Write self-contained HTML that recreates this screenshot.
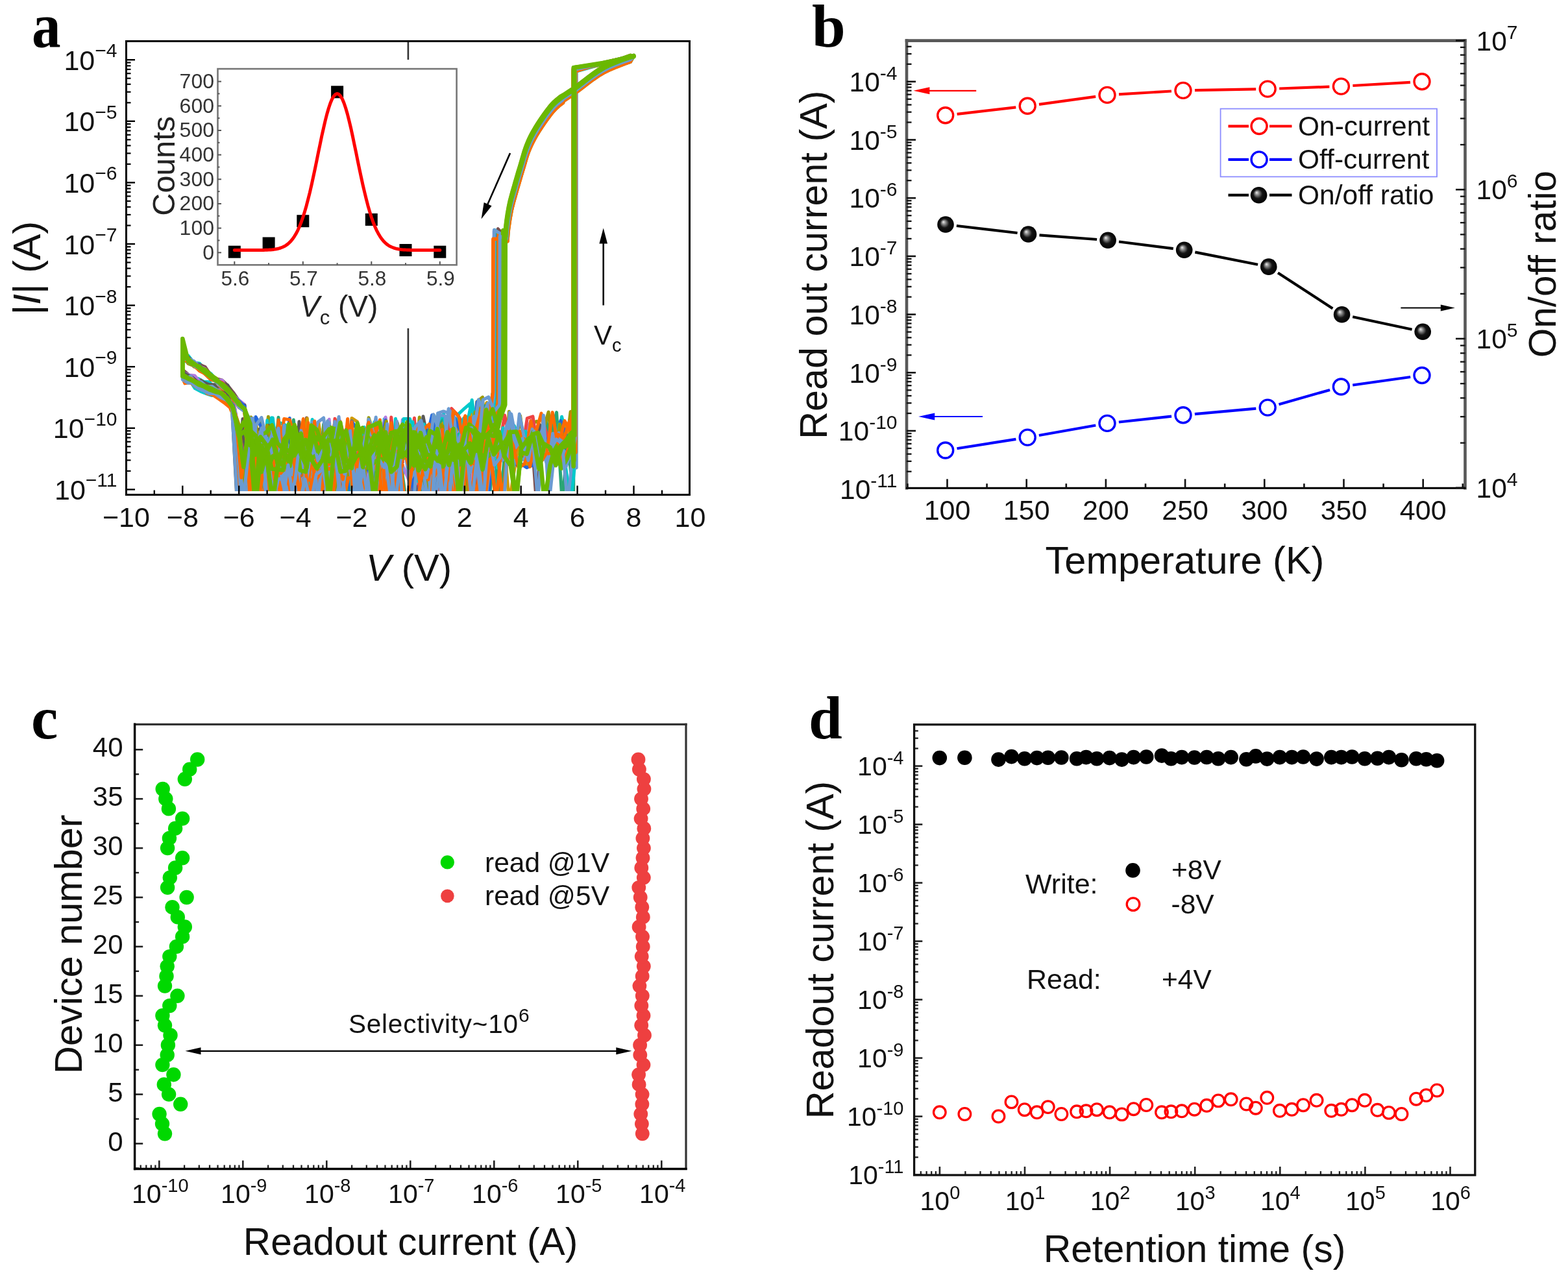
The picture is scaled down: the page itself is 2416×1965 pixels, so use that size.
<!DOCTYPE html>
<html><head><meta charset="utf-8"><title>Figure</title>
<style>html,body{margin:0;padding:0;background:#fff}svg{display:block}</style>
</head><body>
<svg width="2416" height="1965" viewBox="0 0 2416 1965" font-family="'Liberation Sans', Arial, sans-serif">
<defs>
<radialGradient id="sph" cx="0.5" cy="0.5" r="0.5" fx="0.36" fy="0.34">
<stop offset="0" stop-color="#f0f0f0"/><stop offset="0.22" stop-color="#909090"/><stop offset="0.55" stop-color="#151515"/><stop offset="1" stop-color="#000"/>
</radialGradient>
<clipPath id="clipA"><rect x="196" y="65" width="865" height="692"/></clipPath>
</defs>
<rect x="0" y="0" width="2416" height="1965" fill="#fff"/>
<g clip-path="url(#clipA)">
<polyline points="635.8,671.1 644.5,738.4 653.2,734 661.9,775 670.6,682.3 679.3,705.5 688,775 696.6,649.8 705.3,716 714,775 722.7,666.4 731.4,664.2 740.1,775 748.8,667.9 757.5,625.2 766.2,671.3 774.9,688.7 783.5,672.7 792.2,702.8 800.9,715.4 809.6,682.4 818.3,652.8 827,649.4 835.7,660.2 844.4,680.9 853.1,710.7 861.8,679.6 870.4,703.7 879.1,634.5 886.1,633.5 886.1,110.1 928.7,96.6 976.6,86.8 971.5,95.5 964.4,98 956,101.1 947,104.6 938.1,108.5 930,112.6 922.3,117.2 914.5,122.6 906.8,128.3 899.4,134 892.5,139.3 886.3,143.9 881,147.6 876.3,150.7 872.2,153.4 868.4,155.9 867.9,158.4 864.5,161 861.5,163.4 859,165.6 856.7,167.7 854.5,170 852.1,172.8 849.3,176.2 846.1,180.4 842.5,185.3 838.8,190.7 835.1,196.2 831.6,201.5 828.4,206.6 825.7,211.2 823.3,215.6 821.1,219.9 819,224.2 817.1,228.6 815.1,233.2 813.3,238 811.7,242.9 810.2,248 808.7,253.2 807.2,258.3 805.6,263.6 804,268.9 802.4,274.3 800.8,279.8 799.2,285.3 797.6,290.7 796.1,295.9 794.7,300.8 793.4,305.6 792,310.3 790.8,315 789.6,319.7 788.5,324.4 787.6,329.2 786.7,334.2 785.8,339.3 785.1,344.1 784.4,348.8 783.8,353 783.4,356.9 783,360.7 782.8,364.3 782.5,367.4 782.4,370 782.2,372 769.6,358.5 769.1,615.7 760.9,775 752.2,775 743.5,612.1 734.8,619.1 726.1,722.5 717.4,675.2 708.7,713.6 700,775 691.4,720.7 682.7,658.7 674,666 665.3,712.8 656.6,692.5 647.9,712.5 639.2,657.9 630.5,775 622,775 613.3,775 604.6,739.8 595.9,775 587.2,775 578.5,706.4 569.8,685.1 561.2,727.5 552.5,698.4 543.8,775 535.1,670.4 526.4,728.4 517.7,775 509,736.4 500.3,724.7 491.6,775 482.9,678.7 474.3,689.2 465.6,739.9 456.9,738.3 448.2,703.1 439.5,702.5 430.8,655.1 422.1,775 413.4,642.3 404.7,713.1 396,692.4 387.4,775 378.7,646.8 370,694 361.3,639.8 352.6,623.2 343.9,614 335.2,608.8 326.5,605.5 317.8,598 309.1,597.9 300.5,589.6 291.8,587.4 283.1,585.5 281.3,581.6 281.3,549.5 290,560.5 298.7,564 307.4,568.7 316.1,569.7 324.8,581.3 333.4,585.7 342.1,595.7 350.8,602 359.5,615.1 368.2,624.6 376.9,634.1 385.6,649.8 394.3,727.6 403,645.5 411.7,717.6 420.3,736.9 429,706.1 437.7,775 446.4,735.5 455.1,717.8 463.8,720.6 472.5,775 481.2,709.8 489.9,698.3 498.6,723.8 507.2,719.9 515.9,775 524.6,775 533.3,714.8 542,775 550.7,713.4 559.4,775 568.1,684.3 576.8,775 585.5,775 594.1,660 602.8,775 611.5,775 620.2,695.4" fill="none" stroke="#9c9a00" stroke-width="5.0" stroke-linejoin="round" stroke-linecap="round" />
<polyline points="631,690.6 639.7,677 648.3,695.1 657,775 665.7,671.6 674.4,688.7 683.1,733.8 691.8,692.1 700.5,707.5 709.2,668.7 717.9,699 726.6,728.1 735.2,680.5 743.9,652.9 752.6,775 761.3,696.4 770,775 778.7,715.3 787.4,686.8 796.1,678.1 804.8,683.5 813.5,716.7 822.1,676.1 830.8,690.8 839.5,679.8 848.2,690.5 856.9,689.6 865.6,642.3 874.3,678.2 883,711.3 886,638.3 886,106.1 928.7,99.3 976.6,86.8 971.5,95.1 964.4,97.6 956,100.7 947,104.2 938.1,108 930,112.1 922.3,116.8 914.5,122.2 906.8,127.9 899.4,133.6 892.5,138.9 886.3,143.4 881,147.1 876.3,150.3 872.2,153 868.4,155.5 867.7,158 864.4,160.5 861.4,163 858.8,165.2 856.5,167.3 854.3,169.6 851.9,172.3 849.2,175.7 845.9,180 842.3,184.9 838.6,190.2 834.9,195.7 831.4,201.1 828.3,206.1 825.6,210.7 823.1,215.1 820.9,219.4 818.8,223.7 816.9,228.1 815,232.7 813.2,237.6 811.5,242.5 810,247.6 808.5,252.7 807,257.9 805.5,263.1 803.9,268.5 802.2,273.9 800.6,279.4 799,284.9 797.4,290.2 796,295.4 794.6,300.4 793.2,305.2 791.9,309.9 790.6,314.6 789.5,319.2 788.4,323.9 787.4,328.8 786.5,333.8 785.6,338.8 784.9,343.7 784.2,348.3 783.7,352.5 783.2,356.5 782.9,360.3 782.6,363.8 782.4,367 782.2,369.6 782.1,371.5 767.5,356.5 767,608.9 758.8,606.7 750.1,686.8 741.4,692.6 732.7,703.6 724,622.3 715.3,629.9 706.6,637.8 697.9,690.4 689.2,716.9 680.6,659.4 671.9,644.9 663.2,737 654.5,665.4 645.8,703.2 637.1,729.7 626.8,702.7 618.1,695.8 609.5,645.3 600.8,775 592.1,645.7 583.4,775 574.7,718 566,688.6 557.3,733.6 548.6,775 539.9,707.5 531.2,691.8 522.6,775 513.9,726.5 505.2,775 496.5,775 487.8,725 479.1,669.8 470.4,738.5 461.7,718.5 453,775 444.3,683.8 435.7,736.6 427,677.7 418.3,643.8 409.6,775 400.9,697.8 392.2,775 383.5,671.1 374.8,775 366.1,662.4 357.4,614.8 348.8,608.6 340.1,603.2 331.4,600.1 322.7,588.8 314,588.3 305.3,583.4 296.6,582.1 287.9,576.5 281.3,578.6 281.3,544.6 290,548.1 298.7,559 307.4,559.9 316.1,569.4 324.8,575.7 333.4,585.7 342.1,589.5 350.8,597.9 359.5,605.4 368.2,618.5 376.9,624.4 385.6,705.2 394.3,775 403,775 411.7,647.8 420.3,775 429,715.2 437.7,775 446.4,674.6 455.1,775 463.8,685.2 472.5,702.6 481.2,646.5 489.9,775 498.6,671.9 507.2,775 515.9,717 524.6,775 533.3,775 542,715.9 550.7,678.1 559.4,693.5 568.1,775 576.8,650.5 585.5,655.5 594.1,775 602.8,714.6 611.5,699.2 620.2,705.3" fill="none" stroke="#00c9cb" stroke-width="5.0" stroke-linejoin="round" stroke-linecap="round" />
<polyline points="635.3,775 644,662.9 652.7,702.5 661.4,665.2 670.1,730.6 678.8,694.7 687.5,668.8 696.2,775 704.9,775 713.5,686.3 722.2,667.5 730.9,644.7 739.6,775 748.3,643 757,653.3 765.7,677.3 774.4,699.9 783.1,689.2 791.8,667.3 800.4,678 809.1,705.2 817.8,651.6 826.5,775 835.2,664.8 843.9,720.4 852.6,679.3 861.3,677.6 870,704.5 878.7,650.7 885.9,719.8 885.9,108.7 928.7,97.8 976.6,87.2 971.5,89.5 964.4,92 956,95.1 947,98.6 938.1,102.5 930,106.6 922.3,111.2 914.5,116.6 906.8,122.3 899.4,128 892.5,133.3 886.3,137.9 881,141.5 876.3,144.7 872.2,147.4 868.4,149.9 865.5,152.4 862.1,155 859.1,157.4 856.6,159.6 854.3,161.7 852.1,164 849.7,166.8 846.9,170.2 843.7,174.4 840.1,179.3 836.4,184.6 832.7,190.1 829.1,195.5 826,200.6 823.3,205.2 820.9,209.6 818.7,213.9 816.6,218.1 814.6,222.5 812.7,227.2 810.9,232 809.3,236.9 807.8,242 806.3,247.1 804.8,252.3 803.2,257.6 801.6,262.9 800,268.3 798.4,273.8 796.8,279.3 795.2,284.7 793.7,289.9 792.3,294.8 791,299.6 789.6,304.3 788.4,309 787.2,313.6 786.1,318.4 785.2,323.2 784.2,328.2 783.4,333.2 782.7,338.1 782,342.7 781.4,347 781,350.9 780.6,354.7 780.3,358.2 780.1,361.4 780,364 779.8,366 767.2,352.7 766.7,604.3 758.5,667.4 749.8,775 741.2,721.9 732.5,670.2 723.8,775 715.1,775 706.4,690.1 697.7,655.6 689,648.6 680.3,661.4 671.6,646 662.9,656.5 654.3,775 645.6,682.2 636.9,703.8 622.5,674.1 613.8,661.6 605.1,734.3 596.4,729.7 587.7,775 579,775 570.3,703 561.6,695.1 552.9,720.2 544.3,690.1 535.6,727.5 526.9,775 518.2,775 509.5,662.1 500.8,727 492.1,661.1 483.4,775 474.7,775 466,775 457.4,709.5 448.7,775 440,775 431.3,671.5 422.6,775 413.9,655.8 405.2,775 396.5,690.6 387.8,708 379.1,715.1 370.5,709.4 361.8,629.8 353.1,616.3 344.4,606.4 335.7,604.3 327,597.6 318.3,593.9 309.6,586 300.9,587.4 292.2,578.9 283.6,571.7 281.3,574 281.3,544.1 290,550.4 298.7,559.5 307.4,561.7 316.1,565.5 324.8,578.4 333.4,583.6 342.1,585.9 350.8,594.1 359.5,605 368.2,617.6 376.9,630 385.6,712.1 394.3,775 403,694.1 411.7,663.7 420.3,727.5 429,674.9 437.7,680.3 446.4,700.1 455.1,725.2 463.8,775 472.5,643.9 481.2,699.3 489.9,723.3 498.6,706.3 507.2,710.9 515.9,775 524.6,698.2 533.3,775 542,670.4 550.7,702.7 559.4,696.3 568.1,775 576.8,659.6 585.5,693.7 594.1,685.4 602.8,658.5 611.5,728.5 620.2,712.5" fill="none" stroke="#7b4f4f" stroke-width="5.0" stroke-linejoin="round" stroke-linecap="round" />
<polyline points="636.1,775 644.8,775 653.5,733.8 662.2,775 670.9,688.1 679.6,727.2 688.3,721.2 697,660.6 705.6,702.6 714.3,775 723,679.8 731.7,775 740.4,641 749.1,704.9 757.8,724.5 766.5,718.8 775.2,698.5 783.9,709.5 792.5,696.8 801.2,692.4 809.9,664.8 818.6,648.2 827.3,707.1 836,679 844.7,677 853.4,664.5 862.1,701.5 870.8,715.6 879.4,712 884.6,696.8 884.6,105.7 928.7,98.1 976.6,87 971.5,90.5 964.4,93.1 956,96.1 947,99.6 938.1,103.5 930,107.6 922.3,112.3 914.5,117.6 906.8,123.4 899.4,129.1 892.5,134.4 886.3,138.9 881,142.6 876.3,145.7 872.2,148.4 868.4,151 865.9,153.4 862.6,156 859.5,158.5 857,160.6 854.7,162.8 852.5,165.1 850.1,167.8 847.4,171.2 844.1,175.4 840.5,180.3 836.8,185.7 833.1,191.2 829.6,196.6 826.5,201.6 823.8,206.2 821.3,210.6 819.1,214.9 817,219.2 815.1,223.6 813.2,228.2 811.4,233 809.7,238 808.2,243 806.7,248.2 805.2,253.4 803.7,258.6 802.1,263.9 800.4,269.4 798.8,274.9 797.2,280.3 795.6,285.7 794.2,290.9 792.7,295.9 791.4,300.7 790.1,305.4 788.8,310 787.6,314.7 786.6,319.4 785.6,324.3 784.7,329.3 783.8,334.3 783.1,339.2 782.4,343.8 781.9,348 781.4,351.9 781,355.7 780.8,359.3 780.6,362.4 780.4,365 780.3,367 761.2,356.4 760.7,624.4 752.5,667.8 743.9,775 735.2,654.8 726.5,718.7 717.8,697.1 709.1,656.8 700.4,697.3 691.7,684.7 683,673.6 674.3,648.3 665.6,737.1 657,775 648.3,731.3 639.6,663.4 630.9,742 621.7,720.4 613,698.6 604.3,733.1 595.6,657.8 586.9,737.6 578.2,775 569.5,775 560.8,775 552.2,711.4 543.5,775 534.8,775 526.1,714.5 517.4,720.5 508.7,775 500,728.1 491.3,690.9 482.6,714.5 473.9,684.5 465.3,728.5 456.6,675.3 447.9,775 439.2,775 430.5,775 421.8,775 413.1,675.6 404.4,721 395.7,725.9 387,734.5 378.4,713 369.7,675.4 361,623.8 352.3,607.3 343.6,600.4 334.9,597.3 326.2,593.9 317.5,592.6 308.8,589.7 300.1,579 291.5,577.9 282.8,574.7 281.3,575.5 281.3,543.4 290,552.7 298.7,556.7 307.4,564.4 316.1,568.5 324.8,579.6 333.4,586.2 342.1,585.9 350.8,599.3 359.5,609.3 368.2,616.7 376.9,623.6 385.6,693.5 394.3,734.1 403,657.6 411.7,718.2 420.3,709.4 429,656.6 437.7,705.4 446.4,775 455.1,685.1 463.8,673.3 472.5,661.9 481.2,738.9 489.9,695.8 498.6,674.6 507.2,646.2 515.9,775 524.6,694 533.3,775 542,775 550.7,695.6 559.4,671.8 568.1,775 576.8,699.9 585.5,674.1 594.1,643 602.8,704.6 611.5,775 620.2,646.9" fill="none" stroke="#b27be2" stroke-width="5.0" stroke-linejoin="round" stroke-linecap="round" />
<polyline points="636.7,775 645.4,775 654.1,697.2 662.8,726.9 671.5,692 680.2,719.1 688.9,672.2 697.6,691.4 706.3,733 715,643.9 723.6,641.6 732.3,635.9 741,775 749.7,775 758.4,656.3 767.1,716.7 775.8,662.9 784.5,775 793.2,719.6 801.9,668.5 810.5,717.1 819.2,661.9 827.9,686.6 836.6,706.7 845.3,708.1 854,644.6 862.7,703.5 871.4,653.6 880.1,683.2 884.8,687.4 884.8,108.3 928.7,99.4 976.6,85.7 971.5,92.2 964.4,94.8 956,97.8 947,101.3 938.1,105.2 930,109.3 922.3,114 914.5,119.3 906.8,125.1 899.4,130.8 892.5,136.1 886.3,140.6 881,144.3 876.3,147.4 872.2,150.2 868.4,152.7 866.6,155.1 863.2,157.7 860.2,160.2 857.7,162.3 855.4,164.5 853.2,166.8 850.8,169.5 848,172.9 844.8,177.1 841.2,182 837.5,187.4 833.8,192.9 830.2,198.3 827.1,203.3 824.4,207.9 822,212.3 819.8,216.6 817.7,220.9 815.7,225.3 813.8,229.9 812,234.7 810.4,239.7 808.9,244.7 807.4,249.9 805.9,255.1 804.3,260.3 802.7,265.6 801.1,271.1 799.5,276.6 797.9,282 796.3,287.4 794.8,292.6 793.4,297.6 792.1,302.4 790.7,307.1 789.5,311.7 788.3,316.4 787.2,321.1 786.3,326 785.3,331 784.5,336 783.8,340.9 783.1,345.5 782.5,349.7 782.1,353.6 781.7,357.4 781.4,361 781.2,364.1 781.1,366.7 780.9,368.7 767.5,361.7 767,608.8 758.8,694.6 750.1,620.5 741.4,638.4 732.7,676 724.1,694.9 715.4,650.4 706.7,651.6 698,680.3 689.3,775 680.6,642.4 671.9,737.5 663.2,706.6 654.5,743.9 645.8,750.8 637.2,661.8 621.1,673.6 612.4,721 603.7,696 595,689.5 586.3,727.7 577.6,775 568.9,653.1 560.2,682.9 551.5,672.3 542.8,775 534.2,660.8 525.5,687 516.8,646.8 508.1,686.9 499.4,713.1 490.7,650.2 482,775 473.3,644.7 464.6,732.6 455.9,775 447.3,775 438.6,775 429.9,708.4 421.2,775 412.5,775 403.8,703.6 395.1,670.9 386.4,676.5 377.7,712 369,683.9 360.4,638.1 351.7,614.4 343,605.6 334.3,607.3 325.6,597.2 316.9,593.4 308.2,593.8 299.5,591.6 290.8,589.7 282.1,583.3 281.3,577.2 281.3,550.8 290,559 298.7,559 307.4,569.3 316.1,570.9 324.8,578.6 333.4,583 342.1,595.7 350.8,601.7 359.5,615.1 368.2,622.4 376.9,628.2 385.6,775 394.3,643.2 403,775 411.7,775 420.3,662.3 429,712.8 437.7,680.6 446.4,775 455.1,717.5 463.8,709.3 472.5,678.4 481.2,653.1 489.9,732.8 498.6,715.7 507.2,724.5 515.9,689.1 524.6,775 533.3,775 542,644.4 550.7,650.2 559.4,736.8 568.1,775 576.8,692.2 585.5,775 594.1,728.8 602.8,671.6 611.5,695.7 620.2,720.1" fill="none" stroke="#d09a00" stroke-width="5.0" stroke-linejoin="round" stroke-linecap="round" />
<polyline points="631.8,700.4 640.5,673 649.1,659 657.8,725 666.5,702.4 675.2,775 683.9,678.8 692.6,775 701.3,681 710,775 718.7,726.6 727.4,690.3 736,775 744.7,661.4 753.4,657.7 762.1,690.9 770.8,669.3 779.5,720.3 788.2,673 796.9,716.9 805.6,699.3 814.3,680.2 822.9,692.8 831.6,654.8 840.3,688.9 849,716.9 857.7,691 866.4,706.1 875.1,689.2 883.6,696.3 883.6,105.1 928.7,97.1 976.6,86.6 971.5,86.2 964.4,88.7 956,91.8 947,95.3 938.1,99.2 930,103.3 922.3,107.9 914.5,113.3 906.8,119 899.4,124.7 892.5,130 886.3,134.6 881,138.2 876.3,141.4 872.2,144.1 868.4,146.6 864.2,149.1 860.8,151.7 857.8,154.1 855.3,156.3 853,158.4 850.8,160.7 848.4,163.5 845.6,166.9 842.4,171.1 838.8,176 835.1,181.3 831.3,186.8 827.8,192.2 824.7,197.3 822,201.9 819.6,206.3 817.4,210.6 815.3,214.8 813.3,219.2 811.4,223.9 809.6,228.7 808,233.6 806.4,238.7 804.9,243.8 803.5,249 801.9,254.3 800.3,259.6 798.7,265 797.1,270.5 795.4,276 793.9,281.4 792.4,286.6 791,291.5 789.6,296.3 788.3,301 787.1,305.7 785.9,310.3 784.8,315.1 783.8,319.9 782.9,324.9 782.1,329.9 781.4,334.8 780.7,339.4 780.1,343.7 779.7,347.6 779.3,351.4 779,354.9 778.8,358.1 778.7,360.7 778.5,362.7 764.9,364.3 764.4,605.3 756.2,644.5 747.5,629.9 738.9,691.2 730.2,655 721.5,652.7 712.8,667.9 704.1,653.6 695.4,662.1 686.7,683 678,711.4 669.3,733.9 660.6,686.3 652,641.7 643.3,775 634.6,705.5 626,677.2 617.3,722.5 608.7,668.1 600,690.5 591.3,715.6 582.6,728.3 573.9,692.5 565.2,704.4 556.5,712.2 547.8,679.5 539.1,668.1 530.4,723.5 521.8,671.1 513.1,702.5 504.4,775 495.7,775 487,729.4 478.3,775 469.6,714.9 460.9,649.8 452.2,775 443.5,663.8 434.9,709.9 426.2,704.3 417.5,690.1 408.8,694.8 400.1,722.5 391.4,717.4 382.7,775 374,645.5 365.3,775 356.6,613.8 348,603 339.3,603.8 330.6,592.8 321.9,592.5 313.2,588.8 304.5,588.6 295.8,581.2 287.1,577.1 281.3,573.5 281.3,547.6 290,554.3 298.7,558.9 307.4,565.9 316.1,569.7 324.8,577.8 333.4,585.7 342.1,590.4 350.8,593.6 359.5,610.8 368.2,622.4 376.9,624.5 385.6,775 394.3,661.8 403,662 411.7,775 420.3,775 429,689.6 437.7,696 446.4,775 455.1,732.4 463.8,683.6 472.5,700.5 481.2,669.9 489.9,723.3 498.6,729.9 507.2,722.9 515.9,734 524.6,698 533.3,715.4 542,719.4 550.7,681.7 559.4,658.5 568.1,723.4 576.8,775 585.5,728.5 594.1,661.9 602.8,694.1 611.5,775 620.2,663.8" fill="none" stroke="#585858" stroke-width="5.0" stroke-linejoin="round" stroke-linecap="round" />
<polyline points="629.8,732.4 638.5,644.2 647.2,775 655.9,775 664.6,775 673.3,775 682,718.9 690.6,721.1 699.3,728.4 708,698.5 716.7,775 725.4,688.7 734.1,671.6 742.8,631.1 751.5,775 760.2,666.9 768.9,693.7 777.5,639.9 786.2,679.9 794.9,708.3 803.6,702 812.3,644.6 821,641.9 829.7,699.5 838.4,644.7 847.1,687.5 855.8,649.9 864.4,664.4 873.1,675.1 881.8,665.6 882.8,719.2 882.8,106.2 928.7,96.8 976.6,85.9 971.5,85.2 964.4,87.7 956,90.8 947,94.3 938.1,98.2 930,102.3 922.3,106.9 914.5,112.3 906.8,118 899.4,123.7 892.5,129 886.3,133.6 881,137.3 876.3,140.4 872.2,143.1 868.4,145.6 863.8,148.1 860.4,150.7 857.4,153.1 854.9,155.3 852.6,157.4 850.4,159.7 848,162.5 845.2,165.9 842,170.1 838.4,175 834.7,180.4 830.9,185.9 827.4,191.2 824.3,196.3 821.6,200.9 819.2,205.3 817,209.6 814.9,213.9 812.9,218.3 811,222.9 809.2,227.7 807.6,232.6 806,237.7 804.6,242.9 803.1,248 801.5,253.3 799.9,258.6 798.3,264 796.7,269.5 795.1,275 793.5,280.4 792,285.6 790.6,290.5 789.2,295.3 787.9,300 786.7,304.7 785.5,309.4 784.4,314.1 783.4,318.9 782.5,323.9 781.7,329 781,333.8 780.3,338.5 779.7,342.7 779.3,346.6 778.9,350.4 778.6,354 778.4,357.1 778.3,359.7 778.1,361.7 765.2,367.7 764.7,604.9 756.5,650.9 747.8,675 739.1,775 730.4,669 721.7,682.2 713,651.3 704.3,638.7 695.6,629.6 687,683.8 678.3,728.9 669.6,698 660.9,714.5 652.2,701.1 643.5,775 634.8,744.9 628,656 619.3,710.5 610.6,775 601.9,720.8 593.2,775 584.5,775 575.8,733.2 567.2,775 558.5,775 549.8,688.5 541.1,670.5 532.4,679.6 523.7,648.7 515,729.4 506.3,712.6 497.6,680.8 488.9,691 480.3,676 471.6,694.7 462.9,735.9 454.2,696.1 445.5,739.8 436.8,775 428.1,720.4 419.4,688 410.7,775 402,735.1 393.4,686.4 384.7,699.5 376,700.7 367.3,663.2 358.6,631.7 349.9,617.1 341.2,605.4 332.5,603.5 323.8,600.3 315.1,596 306.5,596.4 297.8,591 289.1,581.8 281.3,578.3 281.3,550 290,552.9 298.7,564.9 307.4,563 316.1,572.3 324.8,577.8 333.4,586.6 342.1,589.3 350.8,598.7 359.5,615.1 368.2,624.3 376.9,628.1 385.6,670.3 394.3,775 403,775 411.7,690.4 420.3,775 429,775 437.7,775 446.4,721.3 455.1,728.2 463.8,686.4 472.5,775 481.2,662.6 489.9,775 498.6,703.4 507.2,775 515.9,645.3 524.6,720.5 533.3,733.6 542,695.6 550.7,688.3 559.4,775 568.1,775 576.8,676.7 585.5,775 594.1,775 602.8,642.9 611.5,728.3 620.2,710.7" fill="none" stroke="#ee4444" stroke-width="5.0" stroke-linejoin="round" stroke-linecap="round" />
<polyline points="631.7,691.7 640.3,775 649,775 657.7,682.8 666.4,775 675.1,654.1 683.8,643.2 692.5,681.7 701.2,674.7 709.9,666.9 718.6,709.5 727.2,691.9 735.9,701.2 744.6,658.7 753.3,775 762,691.1 770.7,775 779.4,681.5 788.1,692.4 796.8,678.7 805.5,697.5 814.1,679.4 822.8,689.2 831.5,700 840.2,646.2 848.9,672.1 857.6,635.6 866.3,775 875,678.3 883.7,775 884,665.3 884,107 928.7,99.2 976.6,85.4 971.5,92.1 964.4,94.6 956,97.7 947,101.2 938.1,105.1 930,109.2 922.3,113.8 914.5,119.2 906.8,124.9 899.4,130.6 892.5,135.9 886.3,140.5 881,144.2 876.3,147.3 872.2,150 868.4,152.5 866.5,155 863.2,157.6 860.2,160 857.6,162.2 855.4,164.3 853.1,166.7 850.7,169.4 848,172.8 844.7,177 841.2,181.9 837.4,187.3 833.7,192.8 830.2,198.2 827.1,203.2 824.4,207.8 822,212.2 819.7,216.5 817.7,220.8 815.7,225.2 813.8,229.8 812,234.6 810.3,239.6 808.8,244.6 807.3,249.8 805.8,255 804.3,260.2 802.7,265.5 801.1,270.9 799.4,276.4 797.8,281.9 796.3,287.3 794.8,292.5 793.4,297.4 792,302.3 790.7,307 789.4,311.6 788.3,316.3 787.2,321 786.2,325.8 785.3,330.9 784.5,335.9 783.7,340.8 783.1,345.4 782.5,349.6 782,353.5 781.7,357.3 781.4,360.9 781.2,364 781,366.6 780.9,368.6 764.7,358.2 764.2,618.3 756,635 747.3,625.7 738.6,676.2 729.9,682 721.3,656.6 712.6,707.8 703.9,694.8 695.2,733.1 686.5,658.2 677.8,713.4 669.1,640.7 660.4,714.8 651.7,722 643,727.9 634.4,730.2 626.1,775 617.5,712.7 608.8,775 600.1,684.3 591.4,705.7 582.7,723.1 574,735.6 565.3,708.8 556.6,691.3 547.9,736.9 539.2,775 530.6,714.9 521.9,724.8 513.2,678.6 504.5,712.3 495.8,737 487.1,727.6 478.4,775 469.7,733.8 461,722.4 452.3,647.1 443.7,716.1 435,730.3 426.3,737.9 417.6,703.5 408.9,708.4 400.2,775 391.5,690.9 382.8,671.1 374.1,775 365.4,688 356.8,625.9 348.1,620.6 339.4,608.1 330.7,607.9 322,603.1 313.3,602.9 304.6,594.9 295.9,589.3 287.2,584 281.3,580.3 281.3,548.6 290,554.8 298.7,560.8 307.4,567.4 316.1,576.6 324.8,585.3 333.4,587.4 342.1,593.2 350.8,601.5 359.5,614.4 368.2,624.1 376.9,629.5 385.6,687.4 394.3,775 403,675.6 411.7,723.1 420.3,730.9 429,643.2 437.7,775 446.4,698.5 455.1,775 463.8,775 472.5,719.6 481.2,726.4 489.9,775 498.6,653.8 507.2,733.4 515.9,775 524.6,707.9 533.3,662.2 542,705.5 550.7,690.4 559.4,702.2 568.1,646.9 576.8,775 585.5,675.5 594.1,775 602.8,712.7 611.5,716.5 620.2,705.5" fill="none" stroke="#2aa575" stroke-width="5.0" stroke-linejoin="round" stroke-linecap="round" />
<polyline points="629.2,775 637.8,694 646.5,656.5 655.2,681.8 663.9,701 672.6,775 681.3,775 690,704.3 698.7,639.9 707.4,775 716.1,727.3 724.7,659.5 733.4,717.2 742.1,668.8 750.8,646.4 759.5,664.2 768.2,716.4 776.9,690.5 785.6,668.3 794.3,713.7 803,714.9 811.6,720.8 820.3,717.3 829,717.9 837.7,664.5 846.4,700.7 855.1,702.2 863.8,648.4 872.5,670.6 881.2,692 884.3,672.7 884.3,107.1 928.7,99.3 976.6,86.4 971.5,86.5 964.4,89 956,92.1 947,95.6 938.1,99.4 930,103.5 922.3,108.2 914.5,113.6 906.8,119.3 899.4,125 892.5,130.3 886.3,134.8 881,138.5 876.3,141.7 872.2,144.4 868.4,146.9 864.3,149.4 860.9,151.9 857.9,154.4 855.4,156.6 853.1,158.7 850.9,161 848.5,163.7 845.7,167.1 842.5,171.4 838.9,176.3 835.2,181.6 831.4,187.1 827.9,192.5 824.8,197.5 822.1,202.1 819.7,206.5 817.5,210.8 815.4,215.1 813.4,219.5 811.5,224.1 809.7,229 808.1,233.9 806.5,239 805.1,244.1 803.6,249.3 802,254.5 800.4,259.8 798.8,265.3 797.2,270.8 795.6,276.3 794,281.6 792.5,286.8 791.1,291.8 789.8,296.6 788.4,301.3 787.2,306 786,310.6 784.9,315.3 783.9,320.2 783,325.2 782.2,330.2 781.5,335.1 780.8,339.7 780.2,343.9 779.8,347.9 779.4,351.7 779.1,355.2 778.9,358.4 778.8,361 778.6,362.9 761.3,364.6 760.8,623.5 752.6,775 743.9,645.1 735.2,619.3 726.5,694.5 717.8,706.3 709.2,664.1 700.5,643.7 691.8,775 683.1,736.3 674.4,693.2 665.7,639.6 657,677.9 648.3,745 639.6,775 630.9,690.2 628.6,693.8 620,657.3 611.3,704.2 602.6,717 593.9,736.2 585.2,725 576.5,712.8 567.8,724.9 559.1,681.9 550.4,679.3 541.7,775 533.1,691.7 524.4,775 515.7,775 507,775 498.3,693.8 489.6,716.7 480.9,718.5 472.2,775 463.5,681.2 454.8,714.4 446.2,644.4 437.5,719.1 428.8,775 420.1,688.7 411.4,721.1 402.7,658.2 394,642.5 385.3,701.9 376.6,715.2 367.9,662.3 359.3,624.4 350.6,615.3 341.9,607.6 333.2,606.9 324.5,599.2 315.8,598.1 307.1,595.8 298.4,586.8 289.7,581.6 281.3,578.3 281.3,547.5 290,556.6 298.7,561 307.4,562.6 316.1,574.9 324.8,578.8 333.4,587.3 342.1,592.3 350.8,600.6 359.5,610.8 368.2,617.9 376.9,626.4 385.6,693.2 394.3,775 403,721.9 411.7,695.9 420.3,775 429,683.5 437.7,718.1 446.4,664 455.1,724.9 463.8,738.9 472.5,775 481.2,699.3 489.9,689.8 498.6,775 507.2,711.7 515.9,711.5 524.6,714.9 533.3,697.4 542,649 550.7,663.2 559.4,775 568.1,648.9 576.8,703.3 585.5,691.5 594.1,647.5 602.8,698.7 611.5,669.9 620.2,729.8" fill="none" stroke="#2266dd" stroke-width="5.0" stroke-linejoin="round" stroke-linecap="round" />
<polyline points="635.9,650.3 644.6,741.9 653.3,653.8 662,775 670.7,669.1 679.4,673.4 688.1,775 696.7,697.3 705.4,684.5 714.1,645.2 722.8,670.4 731.5,720.9 740.2,673.4 748.9,720 757.6,667.3 766.3,721.3 775,659.5 783.6,699.1 792.3,656 801,676 809.7,664.6 818.4,701.9 827.1,696.1 835.8,708.9 844.5,699.6 853.2,711 861.9,653.5 870.5,711.7 879.2,775 887.9,696.6 887.9,110.2 928.7,98.6 976.6,86 971.5,91 964.4,93.5 956,96.6 947,100.1 938.1,104 930,108.1 922.3,112.7 914.5,118.1 906.8,123.8 899.4,129.5 892.5,134.8 886.3,139.4 881,143.1 876.3,146.2 872.2,148.9 868.4,151.4 866.1,153.9 862.7,156.5 859.7,158.9 857.2,161.1 854.9,163.2 852.7,165.5 850.3,168.3 847.5,171.7 844.3,175.9 840.7,180.8 837,186.2 833.3,191.6 829.8,197 826.6,202.1 823.9,206.7 821.5,211.1 819.3,215.4 817.2,219.7 815.3,224.1 813.3,228.7 811.5,233.5 809.9,238.4 808.4,243.5 806.9,248.6 805.4,253.8 803.8,259.1 802.2,264.4 800.6,269.8 799,275.3 797.4,280.8 795.8,286.2 794.3,291.4 792.9,296.3 791.6,301.1 790.2,305.8 789,310.5 787.8,315.2 786.7,319.9 785.8,324.7 784.8,329.7 784,334.8 783.3,339.6 782.6,344.3 782,348.5 781.6,352.4 781.2,356.2 781,359.8 780.7,362.9 780.6,365.5 780.4,367.5 761.9,354.4 761.4,619.8 753.2,674.1 744.6,667.7 735.9,678.8 727.2,616.4 718.5,659.7 709.8,775 701.1,682.9 692.4,710.8 683.7,638.2 675,649.1 666.3,697 657.7,675.4 649,688.1 640.3,677.6 631.6,645.6 621.9,645.6 613.2,718.1 604.5,775 595.8,680 587.1,775 578.4,660.4 569.7,705.6 561.1,658.4 552.4,775 543.7,775 535,673.4 526.3,686.4 517.6,687.2 508.9,736.1 500.2,684.4 491.5,702 482.8,701.4 474.2,686.6 465.5,694.5 456.8,718.9 448.1,670.2 439.4,654.8 430.7,651.2 422,775 413.3,732.3 404.6,717.6 395.9,711.4 387.3,724.9 378.6,703.7 369.9,707.7 361.2,640.1 352.5,620.7 343.8,615.9 335.1,609.4 326.4,609.6 317.7,606.7 309,603.1 300.4,598.6 291.7,585.2 283,580.9 281.3,580.6 281.3,554.1 290,558.8 298.7,562.2 307.4,566.2 316.1,573 324.8,579.4 333.4,586.3 342.1,597.7 350.8,601.2 359.5,611.3 368.2,625.8 376.9,630.2 385.6,714.8 394.3,720.3 403,687.3 411.7,695.3 420.3,643.9 429,725.5 437.7,674 446.4,775 455.1,724.8 463.8,775 472.5,775 481.2,653.9 489.9,734.6 498.6,688 507.2,652.8 515.9,775 524.6,662.6 533.3,730.4 542,711 550.7,651.7 559.4,680.7 568.1,703.8 576.8,775 585.5,728.2 594.1,691.7 602.8,775 611.5,707.8 620.2,653.6" fill="none" stroke="#00c9cb" stroke-width="5.0" stroke-linejoin="round" stroke-linecap="round" />
<polyline points="636.5,718.9 645.2,658.1 653.9,677.2 662.6,684.5 671.3,697.5 680,654.5 688.7,664 697.4,775 706.1,686.4 714.7,775 723.4,729.5 732.1,635.1 740.8,728.2 749.5,719.2 758.2,660.6 766.9,702.4 775.6,775 784.3,634.2 793,700.3 801.6,640.6 810.3,708.5 819,687.3 827.7,717.4 836.4,664.6 845.1,635 853.8,718 862.5,653.7 871.2,686.6 879.9,674.4 884.6,708.7 884.6,109.3 928.7,97.8 976.6,86.2 971.5,89.2 964.4,91.8 956,94.8 947,98.4 938.1,102.2 930,106.3 922.3,111 914.5,116.3 906.8,122.1 899.4,127.8 892.5,133.1 886.3,137.6 881,141.3 876.3,144.4 872.2,147.2 868.4,149.7 865.4,152.1 862,154.7 859,157.2 856.5,159.3 854.2,161.5 852,163.8 849.6,166.5 846.8,169.9 843.6,174.1 840,179 836.3,184.4 832.6,189.9 829,195.3 825.9,200.3 823.2,204.9 820.8,209.3 818.6,213.6 816.5,217.9 814.5,222.3 812.6,226.9 810.8,231.7 809.2,236.7 807.7,241.7 806.2,246.9 804.7,252.1 803.1,257.3 801.5,262.6 799.9,268.1 798.3,273.6 796.7,279 795.1,284.4 793.6,289.6 792.2,294.6 790.9,299.4 789.5,304.1 788.3,308.7 787.1,313.4 786,318.1 785.1,323 784.1,328 783.3,333 782.6,337.9 781.9,342.5 781.3,346.7 780.9,350.6 780.5,354.4 780.2,358 780,361.1 779.9,363.7 779.7,365.7 768,358.9 767.5,613.2 759.3,672.1 750.6,703.1 741.9,618.8 733.2,669.5 724.5,722.8 715.8,775 707.1,680.5 698.5,697.4 689.8,707.1 681.1,677.3 672.4,692.1 663.7,775 655,713.1 646.3,643 637.6,726.6 628.9,699.8 621.3,707.3 612.6,652.3 603.9,718.2 595.2,649 586.5,694.5 577.8,695.1 569.1,695.9 560.4,689.4 551.7,775 543.1,661.2 534.4,739.7 525.7,685.3 517,729.3 508.3,775 499.6,653.1 490.9,775 482.2,775 473.5,661.4 464.8,775 456.2,689.7 447.5,737.2 438.8,687.8 430.1,692.4 421.4,698.5 412.7,722.1 404,722.2 395.3,660.7 386.6,642.9 377.9,775 369.3,657.2 360.6,632.3 351.9,621 343.2,605.7 334.5,600.4 325.8,595.3 317.1,595.1 308.4,595.4 299.7,588.5 291,586.2 282.4,580.2 281.3,578.4 281.3,548.7 290,551.9 298.7,564.9 307.4,568.4 316.1,568.9 324.8,577.1 333.4,588.5 342.1,593 350.8,602.8 359.5,613.1 368.2,619.1 376.9,632.9 385.6,775 394.3,775 403,726.7 411.7,655.5 420.3,689.2 429,739.4 437.7,775 446.4,731.9 455.1,685.7 463.8,775 472.5,680.3 481.2,709.1 489.9,703.4 498.6,736.8 507.2,775 515.9,775 524.6,710.4 533.3,739.6 542,711.9 550.7,706.3 559.4,775 568.1,643.7 576.8,670.3 585.5,739.5 594.1,703.4 602.8,713.4 611.5,703.2 620.2,731.9" fill="none" stroke="#9c9a00" stroke-width="5.0" stroke-linejoin="round" stroke-linecap="round" />
<polyline points="635.1,660.6 643.8,685.1 652.5,729 661.2,667 669.9,775 678.6,715.8 687.3,706.3 696,775 704.7,717.3 713.4,699.6 722,656.3 730.7,641.9 739.4,775 748.1,775 756.8,702.2 765.5,701.4 774.2,696 782.9,684.3 791.6,719.2 800.3,638 808.9,681.3 817.6,677 826.3,694.7 835,663.5 843.7,719.3 852.4,678.2 861.1,667.2 869.8,681.4 878.5,678 887.2,646.4 887.2,666.3 887.2,106.5 928.7,96.9 976.6,85.2 971.5,87.3 964.4,89.8 956,92.9 947,96.4 938.1,100.3 930,104.4 922.3,109 914.5,114.4 906.8,120.1 899.4,125.8 892.5,131.1 886.3,135.7 881,139.4 876.3,142.5 872.2,145.2 868.4,147.7 864.6,150.2 861.3,152.8 858.3,155.2 855.7,157.4 853.4,159.5 851.2,161.8 848.8,164.6 846.1,168 842.8,172.2 839.2,177.1 835.5,182.5 831.8,188 828.3,193.3 825.2,198.4 822.5,203 820,207.4 817.8,211.7 815.7,216 813.8,220.4 811.9,225 810.1,229.8 808.4,234.8 806.9,239.8 805.4,245 803.9,250.2 802.4,255.4 800.8,260.7 799.1,266.1 797.5,271.6 795.9,277.1 794.3,282.5 792.9,287.7 791.5,292.6 790.1,297.4 788.8,302.2 787.5,306.8 786.3,311.5 785.3,316.2 784.3,321 783.4,326.1 782.5,331.1 781.8,335.9 781.1,340.6 780.6,344.8 780.1,348.7 779.7,352.5 779.5,356.1 779.3,359.2 779.1,361.8 779,363.8 769.3,368.2 768.8,604.2 760.6,667.5 752,621.1 743.3,641.9 734.6,640.4 725.9,702.9 717.2,660.2 708.5,728.3 699.8,643.8 691.1,630 682.4,712.3 673.7,711.2 665.1,775 656.4,691.3 647.7,718.6 639,727.5 630.3,740.5 622.7,681.9 614,687.5 605.3,775 596.6,653.3 587.9,775 579.2,642.9 570.5,694.5 561.8,718.3 553.1,697.2 544.4,687.8 535.8,698.5 527.1,693.1 518.4,682.1 509.7,703.4 501,775 492.3,775 483.6,723.1 474.9,728.8 466.2,737.6 457.5,775 448.9,775 440.2,775 431.5,681.7 422.8,661 414.1,683.1 405.4,775 396.7,718.6 388,775 379.3,706.2 370.6,705.1 362,638.5 353.3,621.3 344.6,613.3 335.9,602.8 327.2,595.6 318.5,596.4 309.8,588.4 301.1,590.5 292.4,584.7 283.7,582.7 281.3,580.9 281.3,550.3 290,556.7 298.7,559.6 307.4,568 316.1,572.9 324.8,576.9 333.4,588.9 342.1,592.3 350.8,600.7 359.5,608.4 368.2,624.2 376.9,629.7 385.6,728.6 394.3,710.1 403,685.1 411.7,734.3 420.3,775 429,775 437.7,673.8 446.4,692.6 455.1,775 463.8,709.9 472.5,682 481.2,650.4 489.9,698.8 498.6,775 507.2,651.5 515.9,714.9 524.6,728 533.3,704.4 542,720.1 550.7,659.8 559.4,689.1 568.1,658.5 576.8,714.5 585.5,710.4 594.1,731.7 602.8,775 611.5,739.1 620.2,660.7" fill="none" stroke="#6b9bd2" stroke-width="5.0" stroke-linejoin="round" stroke-linecap="round" />
<polyline points="635.3,671 644,658 652.6,661.8 661.3,653.7 670,703.7 678.7,670.7 687.4,775 696.1,681.6 704.8,681.6 713.5,727.5 722.2,663.2 730.9,707.6 739.5,674.5 748.2,656.8 756.9,712.8 765.6,684.6 774.3,775 783,685.8 791.7,707.9 800.4,664.8 809.1,705.8 817.8,648.4 826.4,691.6 835.1,668.1 843.8,696.4 852.5,701.1 861.2,685.3 869.9,648.5 878.6,663.5 882.6,630 882.6,110.5 928.7,96.9 976.6,85.4 971.5,89.7 964.4,92.2 956,95.3 947,98.8 938.1,102.6 930,106.7 922.3,111.4 914.5,116.8 906.8,122.5 899.4,128.2 892.5,133.5 886.3,138 881,141.7 876.3,144.9 872.2,147.6 868.4,150.1 865.6,152.6 862.2,155.1 859.2,157.6 856.7,159.8 854.4,161.9 852.2,164.2 849.8,166.9 847,170.3 843.8,174.6 840.2,179.5 836.4,184.8 832.7,190.3 829.2,195.7 826.1,200.7 823.4,205.3 821,209.7 818.8,214 816.7,218.3 814.7,222.7 812.8,227.3 811,232.2 809.4,237.1 807.8,242.2 806.3,247.3 804.9,252.5 803.3,257.7 801.7,263.1 800.1,268.5 798.4,274 796.8,279.5 795.3,284.9 793.8,290 792.4,295 791,299.8 789.7,304.5 788.5,309.2 787.3,313.8 786.2,318.5 785.2,323.4 784.3,328.4 783.5,333.4 782.7,338.3 782.1,342.9 781.5,347.1 781.1,351.1 780.7,354.9 780.4,358.4 780.2,361.6 780.1,364.2 779.9,366.1 759.6,368.3 759.1,606.7 750.9,654 742.3,632.8 733.6,706.1 724.9,775 716.2,656.7 707.5,724.9 698.8,696.1 690.1,775 681.4,661.9 672.7,684.1 664,685.5 655.4,706 646.7,651.8 638,682.5 629.3,717.1 622.5,692.5 613.8,682.3 605.2,685.3 596.5,681.7 587.8,662.5 579.1,652.1 570.4,775 561.7,775 553,690.3 544.3,775 535.6,645.5 526.9,733 518.3,692.1 509.6,672.2 500.9,728.4 492.2,727.8 483.5,725.9 474.8,651.6 466.1,775 457.4,704.9 448.7,775 440,712.7 431.4,775 422.7,713.1 414,731.2 405.3,657.9 396.6,682.6 387.9,702.3 379.2,775 370.5,775 361.8,635.8 353.1,622.7 344.5,617.7 335.8,611.4 327.1,607.5 318.4,601.2 309.7,600.1 301,591.3 292.3,587.4 283.6,588.1 281.3,579.5 281.3,552 290,558.1 298.7,559.8 307.4,569.1 316.1,576.6 324.8,584.7 333.4,587.7 342.1,598.1 350.8,599.2 359.5,616.4 368.2,625.4 376.9,634.8 385.6,710.3 394.3,684.1 403,775 411.7,731.1 420.3,775 429,704.5 437.7,645.5 446.4,646.9 455.1,678.5 463.8,678.6 472.5,775 481.2,775 489.9,663.4 498.6,775 507.2,686.3 515.9,683.4 524.6,775 533.3,775 542,775 550.7,700.9 559.4,775 568.1,775 576.8,690.8 585.5,775 594.1,719.2 602.8,651.7 611.5,775 620.2,671" fill="none" stroke="#ff6a00" stroke-width="5.0" stroke-linejoin="round" stroke-linecap="round" />
<polyline points="633.9,712.6 642.6,701.2 651.3,720.9 660,775 668.7,682.1 677.4,639.8 686,641.3 694.7,775 703.4,694.1 712.1,665.6 720.8,717.2 729.5,649 738.2,711.4 746.9,657.2 755.6,627 764.3,643.9 772.9,710 781.6,703.2 790.3,711.9 799,705.3 807.7,708.9 816.4,684.4 825.1,721.6 833.8,691.4 842.5,714.2 851.2,668.2 859.8,668.3 868.5,695.3 877.2,699.9 885.9,718.8 888.2,720.8 888.2,106.5 928.7,97.5 976.6,86.7 971.5,90.3 964.4,92.9 956,96 947,99.5 938.1,103.3 930,107.4 922.3,112.1 914.5,117.5 906.8,123.2 899.4,128.9 892.5,134.2 886.3,138.7 881,142.4 876.3,145.5 872.2,148.3 868.4,150.8 865.8,153.2 862.5,155.8 859.5,158.3 856.9,160.5 854.6,162.6 852.4,164.9 850,167.6 847.3,171 844,175.2 840.5,180.2 836.7,185.5 833,191 829.5,196.4 826.4,201.4 823.7,206 821.2,210.4 819,214.7 817,219 815,223.4 813.1,228 811.3,232.8 809.6,237.8 808.1,242.9 806.6,248 805.1,253.2 803.6,258.4 802,263.7 800.3,269.2 798.7,274.7 797.1,280.2 795.6,285.5 794.1,290.7 792.7,295.7 791.3,300.5 790,305.2 788.7,309.8 787.6,314.5 786.5,319.2 785.5,324.1 784.6,329.1 783.8,334.1 783,339 782.4,343.6 781.8,347.8 781.3,351.8 781,355.6 780.7,359.1 780.5,362.2 780.3,364.9 780.2,366.8 772.2,368.2 771.7,614.2 763.5,701.2 754.8,686.1 746.1,638 737.4,615.8 728.7,677.3 720,682 711.3,775 702.6,714.2 693.9,694.3 685.3,775 676.6,664.2 667.9,638.7 659.2,721.3 650.5,728.9 641.8,717.2 633.1,717.7 623.9,686.6 615.2,675.7 606.5,775 597.8,671.3 589.1,681.9 580.4,686.7 571.8,712.4 563.1,775 554.4,738 545.7,775 537,775 528.3,775 519.6,775 510.9,775 502.2,737.3 493.5,775 484.9,709.7 476.2,775 467.5,676.4 458.8,716.4 450.1,685.1 441.4,775 432.7,689.2 424,721.2 415.3,775 406.6,738.5 398,709.4 389.3,644.6 380.6,775 371.9,775 363.2,637.3 354.5,617.6 345.8,610.5 337.1,601.1 328.4,603.9 319.7,596.4 311.1,591.4 302.4,591 293.7,579.8 285,584 281.3,580.4 281.3,546.8 290,554.1 298.7,556.6 307.4,567.9 316.1,574.9 324.8,579.3 333.4,589.1 342.1,591.7 350.8,602.8 359.5,612.9 368.2,624.3 376.9,628.9 385.6,670.5 394.3,674.3 403,711.4 411.7,775 420.3,657.4 429,775 437.7,655.6 446.4,718.4 455.1,730.7 463.8,775 472.5,717.9 481.2,678.1 489.9,650.5 498.6,643.9 507.2,719 515.9,775 524.6,738 533.3,692.6 542,738.8 550.7,775 559.4,775 568.1,739.2 576.8,775 585.5,715.5 594.1,678.3 602.8,703.9 611.5,775 620.2,721.3" fill="none" stroke="#6b9bd2" stroke-width="5.0" stroke-linejoin="round" stroke-linecap="round" />
<polyline points="634.1,673.3 642.8,679.5 651.5,672.8 660.2,711.5 668.9,734.9 677.5,717.7 686.2,702.5 694.9,662.3 703.6,775 712.3,688.7 721,719.7 729.7,709.6 738.4,716.1 747.1,635 755.8,695.1 764.4,775 773.1,775 781.8,708.6 790.5,683.7 799.2,687.3 807.9,676.5 816.6,719.4 825.3,667.5 834,637 842.7,699.7 851.3,697.5 860,669.5 868.7,676.1 877.4,649.5 882.9,710.2 882.9,108.3 928.7,99.4 976.6,85.6 971.5,95.4 964.4,98 956,101.1 947,104.6 938.1,108.4 930,112.5 922.3,117.2 914.5,122.6 906.8,128.3 899.4,134 892.5,139.3 886.3,143.8 881,147.5 876.3,150.6 872.2,153.4 868.4,155.9 867.9,158.3 864.5,160.9 861.5,163.4 859,165.6 856.7,167.7 854.5,170 852.1,172.7 849.3,176.1 846.1,180.4 842.5,185.3 838.8,190.6 835,196.1 831.5,201.5 828.4,206.5 825.7,211.1 823.3,215.5 821.1,219.8 819,224.1 817,228.5 815.1,233.1 813.3,237.9 811.7,242.9 810.1,248 808.7,253.1 807.2,258.3 805.6,263.5 804,268.8 802.4,274.3 800.8,279.8 799.2,285.3 797.6,290.6 796.1,295.8 794.7,300.8 793.3,305.6 792,310.3 790.8,315 789.6,319.6 788.5,324.3 787.5,329.2 786.6,334.2 785.8,339.2 785.1,344.1 784.4,348.7 783.8,352.9 783.4,356.9 783,360.7 782.7,364.2 782.5,367.4 782.4,370 782.2,371.9 767.9,358.7 767.4,615.6 759.2,691.5 750.5,643.5 741.8,705.1 733.1,775 724.4,643.4 715.8,698.5 707.1,642.2 698.4,633.1 689.7,722.6 681,775 672.3,684.6 663.6,775 654.9,775 646.2,775 637.5,775 623.7,775 615,693.9 606.3,698.4 597.6,686.1 588.9,683.2 580.3,724.1 571.6,675 562.9,715 554.2,708.8 545.5,736.6 536.8,736.6 528.1,775 519.4,718.4 510.7,775 502,722.2 493.4,775 484.7,649 476,739.9 467.3,645.6 458.6,694.1 449.9,775 441.2,775 432.5,775 423.8,676.7 415.1,775 406.5,661 397.8,775 389.1,775 380.4,698.5 371.7,706.9 363,648.4 354.3,628.2 345.6,620.9 336.9,614.7 328.2,608.9 319.6,606.7 310.9,597.8 302.2,596.6 293.5,589.6 284.8,590.9 281.3,580.5 281.3,555.5 290,556.6 298.7,563.2 307.4,571.7 316.1,575.9 324.8,580.4 333.4,586.5 342.1,599.1 350.8,601.7 359.5,614.4 368.2,627.8 376.9,633.4 385.6,679.8 394.3,711.3 403,696.3 411.7,695.3 420.3,775 429,647.2 437.7,705 446.4,735.3 455.1,738.3 463.8,775 472.5,722.1 481.2,710.7 489.9,775 498.6,775 507.2,775 515.9,696.7 524.6,699.9 533.3,721.1 542,650 550.7,775 559.4,679.5 568.1,706.6 576.8,775 585.5,682.3 594.1,686.7 602.8,775 611.5,732.1 620.2,716.5" fill="none" stroke="#ff6a00" stroke-width="5.0" stroke-linejoin="round" stroke-linecap="round" />
<polyline points="637.6,775 646.3,651.9 655,697.1 663.6,666.3 672.3,690.1 681,775 689.7,711.2 698.4,690.8 707.1,775 715.8,702.1 724.5,728.5 733.2,693.7 741.9,775 750.5,775 759.2,775 767.9,775 776.6,775 785.3,635.8 794,690.4 802.7,677.6 811.4,705.6 820.1,661.4 828.8,775 837.4,640 846.1,775 854.8,692.1 863.5,678.4 872.2,719.2 880.9,693.3 886.2,703.1 886.2,105.8 928.7,96.9 976.6,85.5 971.5,88.7 964.4,91.3 956,94.3 947,97.9 938.1,101.7 930,105.8 922.3,110.5 914.5,115.9 906.8,121.6 899.4,127.3 892.5,132.6 886.3,137.1 881,140.8 876.3,143.9 872.2,146.7 868.4,149.2 865.2,151.6 861.8,154.2 858.8,156.7 856.3,158.8 854,161 851.8,163.3 849.4,166 846.6,169.4 843.4,173.6 839.8,178.6 836.1,183.9 832.4,189.4 828.9,194.8 825.7,199.8 823,204.4 820.6,208.8 818.4,213.1 816.3,217.4 814.4,221.8 812.4,226.4 810.6,231.2 809,236.2 807.5,241.2 806,246.4 804.5,251.6 802.9,256.8 801.3,262.1 799.7,267.6 798.1,273.1 796.5,278.5 794.9,283.9 793.4,289.1 792,294.1 790.7,298.9 789.3,303.6 788.1,308.2 786.9,312.9 785.8,317.6 784.9,322.5 783.9,327.5 783.1,332.5 782.4,337.4 781.7,342 781.1,346.2 780.7,350.1 780.3,354 780,357.5 779.8,360.6 779.7,363.2 779.5,365.2 761.4,354.3 760.9,611.6 752.7,652 744.1,775 735.4,678.5 726.7,718 718,667 709.3,671.4 700.6,695.6 691.9,636.9 683.2,633.9 674.5,636.9 665.8,775 657.2,775 648.5,741 639.8,690.1 631.1,699.5 620.2,688.7 611.5,775 602.8,670.8 594.2,775 585.5,656.7 576.8,703.6 568.1,775 559.4,719.1 550.7,775 542,775 533.3,775 524.6,713.8 515.9,685.2 507.3,732.9 498.6,676.6 489.9,775 481.2,672.8 472.5,719.6 463.8,775 455.1,775 446.4,775 437.7,729.2 429,696 420.4,775 411.7,682 403,643.5 394.3,655.3 385.6,735.1 376.9,775 368.2,715.7 359.5,628 350.8,613.5 342.1,607.9 333.5,603.5 324.8,602.9 316.1,602.1 307.4,595.5 298.7,589 290,590.3 281.3,585 281.3,579.5 281.3,549.8 290,556.4 298.7,558.9 307.4,568.5 316.1,574.6 324.8,580 333.4,587.7 342.1,596.9 350.8,602.5 359.5,613.4 368.2,625.7 376.9,632.9 385.6,736.9 394.3,673.8 403,680 411.7,714.2 420.3,692.9 429,660.1 437.7,775 446.4,775 455.1,775 463.8,706.7 472.5,739 481.2,680.7 489.9,676.1 498.6,728.8 507.2,775 515.9,649.7 524.6,775 533.3,721.8 542,724 550.7,775 559.4,706.8 568.1,646.1 576.8,671.1 585.5,670.6 594.1,683.7 602.8,698.2 611.5,713.9 620.2,659" fill="none" stroke="#6b9bd2" stroke-width="5.0" stroke-linejoin="round" stroke-linecap="round" />
<polyline points="634,775 642.7,775 651.4,725.6 660,739.2 668.7,696 677.4,680.6 686.1,775 694.8,662.3 703.5,698.9 712.2,775 720.9,691.5 729.6,714.3 738.3,705 746.9,775 755.6,701.2 764.3,775 773,687.6 781.7,665.1 790.4,685.7 799.1,721.1 807.8,715.4 816.5,691.7 825.2,661.8 833.8,711.8 842.5,697.8 851.2,635.4 859.9,688.4 868.6,714 877.3,685.6 886,677.8 887.2,697.4 887.2,110.1 928.7,96.6 976.6,86.2 971.5,93.1 964.4,95.7 956,98.7 947,102.2 938.1,106.1 930,110.2 922.3,114.9 914.5,120.2 906.8,126 899.4,131.7 892.5,137 886.3,141.5 881,145.2 876.3,148.3 872.2,151.1 868.4,153.6 866.9,156 863.6,158.6 860.6,161.1 858,163.2 855.8,165.4 853.5,167.7 851.2,170.4 848.4,173.8 845.2,178 841.6,182.9 837.8,188.3 834.1,193.8 830.6,199.2 827.5,204.2 824.8,208.8 822.4,213.2 820.1,217.5 818.1,221.8 816.1,226.2 814.2,230.8 812.4,235.6 810.8,240.6 809.2,245.6 807.7,250.8 806.2,256 804.7,261.2 803.1,266.5 801.5,272 799.8,277.5 798.2,282.9 796.7,288.3 795.2,293.5 793.8,298.5 792.4,303.3 791.1,308 789.8,312.6 788.7,317.3 787.6,322 786.6,326.9 785.7,331.9 784.9,336.9 784.1,341.8 783.5,346.4 782.9,350.6 782.4,354.5 782.1,358.3 781.8,361.9 781.6,365 781.4,367.6 781.3,369.6 760.2,368.1 759.7,603.5 751.5,666.6 742.8,626.7 734.1,658.2 725.4,716.3 716.7,640.8 708,700.9 699.3,775 690.6,718.4 681.9,676.5 673.3,677.2 664.6,708 655.9,710.1 647.2,746.5 638.5,695.7 629.8,756.2 623.8,775 615.1,722.8 606.4,775 597.8,775 589.1,775 580.4,673.8 571.7,725.3 563,676.1 554.3,674 545.6,775 536.9,678.1 528.2,739 519.5,698.4 510.9,713.8 502.2,717.8 493.5,671.3 484.8,722.3 476.1,775 467.4,687.4 458.7,679.4 450,775 441.3,719.4 432.6,729.3 424,721.7 415.3,775 406.6,720.9 397.9,775 389.2,775 380.5,680.4 371.8,736.2 363.1,639.1 354.4,621.1 345.7,608.2 337.1,602.6 328.4,605.8 319.7,600 311,592.9 302.3,588.2 293.6,582.9 284.9,585.1 281.3,578.4 281.3,547.2 290,558.8 298.7,560.5 307.4,564.6 316.1,573.3 324.8,579.1 333.4,587.1 342.1,593.2 350.8,601.8 359.5,609.9 368.2,622.6 376.9,634.6 385.6,775 394.3,701.3 403,692.7 411.7,735.2 420.3,775 429,738.6 437.7,775 446.4,694.5 455.1,720.3 463.8,775 472.5,775 481.2,739.1 489.9,735.4 498.6,716.9 507.2,723.2 515.9,717.4 524.6,686.2 533.3,711.9 542,713.5 550.7,658.7 559.4,683.3 568.1,651 576.8,674.6 585.5,647.1 594.1,775 602.8,675.9 611.5,775 620.2,699.7" fill="none" stroke="#ff6a00" stroke-width="5.0" stroke-linejoin="round" stroke-linecap="round" />
<polyline points="630.3,720.7 639,690.8 647.7,713.4 656.4,676.4 665.1,706.7 673.7,685.9 682.4,719.2 691.1,708.5 699.8,718.6 708.5,716 717.2,676.9 725.9,699.3 734.6,695.4 743.3,701.7 752,703.2 760.6,695.3 769.3,666.7 778,705 786.7,717.4 795.4,775 804.1,679.4 812.8,690 821.5,666.2 830.2,678.7 838.9,775 847.5,717.2 856.2,686.6 864.9,721.8 873.6,707.2 882.3,680.3 884.3,710.1 884.3,104.2 928.7,98.9 976.6,86.8 971.5,90.8 964.4,93.3 956,96.4 947,99.9 938.1,103.8 930,107.9 922.3,112.5 914.5,117.9 906.8,123.6 899.4,129.3 892.5,134.6 886.3,139.2 881,142.9 876.3,146 872.2,148.7 868.4,151.2 866,153.7 862.7,156.3 859.7,158.7 857.1,160.9 854.8,163 852.6,165.4 850.2,168.1 847.5,171.5 844.2,175.7 840.6,180.6 836.9,186 833.2,191.5 829.7,196.9 826.6,201.9 823.9,206.5 821.4,210.9 819.2,215.2 817.1,219.5 815.2,223.9 813.3,228.5 811.5,233.3 809.8,238.3 808.3,243.3 806.8,248.5 805.3,253.7 803.8,258.9 802.2,264.2 800.5,269.6 798.9,275.1 797.3,280.6 795.7,286 794.3,291.2 792.9,296.1 791.5,301 790.2,305.7 788.9,310.3 787.7,315 786.7,319.7 785.7,324.5 784.8,329.6 783.9,334.6 783.2,339.4 782.5,344.1 782,348.3 781.5,352.2 781.1,356 780.9,359.6 780.7,362.7 780.5,365.3 780.4,367.3 775.1,355.1 774.6,608 766.5,649.9 757.8,658.7 749.1,631.7 740.4,697.7 731.7,661.3 723,654.1 714.3,697.9 705.6,697.3 696.9,701.1 688.2,703.1 679.6,702.4 670.9,669.2 662.2,664.1 653.5,710.8 644.8,725.2 636.1,681 627.5,703 618.8,695.5 610.1,674.8 601.4,725.3 592.7,684.1 584.1,689 575.4,702 566.7,672.9 558,659.6 549.3,692.2 540.6,679.2 531.9,688.8 523.2,676.1 514.5,662.6 505.8,696.2 497.2,688.7 488.5,662.8 479.8,655.7 471.1,727.2 462.4,724.7 453.7,655 445,711.8 436.3,692.2 427.6,683.1 418.9,655.4 410.3,666.4 401.6,672 392.9,775 384.2,668 375.5,650.5 366.8,667.2 358.1,626.2 349.4,614.9 340.7,608.1 332,602.6 323.4,598.4 314.7,594.4 306,592 297.3,588.4 288.6,581.9 281.3,576.8 281.3,550.2 290,554.3 298.7,562.1 307.4,566.5 316.1,570.3 324.8,578.6 333.4,587.7 342.1,594 350.8,601.2 359.5,612.8 368.2,623.6 376.9,631.1 385.6,689 394.3,672.3 403,726.5 411.7,724.9 420.3,703 429,706.6 437.7,720.2 446.4,718.3 455.1,671.7 463.8,688.2 472.5,696.6 481.2,706 489.9,699.6 498.6,702 507.2,658.3 515.9,661.4 524.6,658.7 533.3,696.1 542,704.8 550.7,652.6 559.4,687 568.1,721.5 576.8,712.1 585.5,707.6 594.1,708.4 602.8,668.3 611.5,663 620.2,702.9" fill="none" stroke="#6ab800" stroke-width="6.5" stroke-linejoin="round" stroke-linecap="round" />
<polyline points="631.4,682.8 640.1,657.5 648.8,648 657.5,681.3 666.2,708 674.8,695.5 683.5,775 692.2,775 700.9,661.3 709.6,775 718.3,687.4 727,775 735.7,698.1 744.4,775 753.1,669.9 761.7,716.8 770.4,705.6 779.1,660.8 787.8,638 796.5,685.8 805.2,675.7 813.9,709.6 822.6,664.2 831.3,713.4 840,684.5 848.6,692.7 857.3,676.9 866,683.5 874.7,775 883.4,691.9 886.1,676.1 886.1,107.1 928.7,98.4 976.6,87.1 971.5,91.8 964.4,94.3 956,97.4 947,100.9 938.1,104.8 930,108.9 922.3,113.5 914.5,118.9 906.8,124.6 899.4,130.3 892.5,135.6 886.3,140.2 881,143.9 876.3,147 872.2,149.7 868.4,152.2 866.4,154.7 863.1,157.3 860.1,159.7 857.5,161.9 855.2,164 853,166.3 850.6,169.1 847.9,172.5 844.6,176.7 841,181.6 837.3,187 833.6,192.5 830.1,197.8 827,202.9 824.3,207.5 821.8,211.9 819.6,216.2 817.5,220.5 815.6,224.9 813.7,229.5 811.9,234.3 810.2,239.3 808.7,244.3 807.2,249.5 805.7,254.7 804.2,259.9 802.6,265.2 800.9,270.6 799.3,276.1 797.7,281.6 796.1,287 794.7,292.2 793.3,297.1 791.9,301.9 790.6,306.7 789.3,311.3 788.1,316 787.1,320.7 786.1,325.5 785.2,330.6 784.3,335.6 783.6,340.4 782.9,345.1 782.4,349.3 781.9,353.2 781.5,357 781.3,360.6 781.1,363.7 780.9,366.3 780.8,368.3 770.2,364.2 769.7,623.8 761.5,633.8 752.8,611.8 744.1,616.2 735.4,706.4 726.7,659.5 718.1,661.1 709.4,775 700.7,728.6 692,696.4 683.3,775 674.6,695.3 665.9,692.8 657.2,736 648.5,687.3 639.8,672.5 631.2,672.4 626.4,695.9 617.7,704.5 609,775 600.3,696.1 591.6,720.3 583,706.1 574.3,775 565.6,662.4 556.9,702.7 548.2,775 539.5,663.8 530.8,730.4 522.1,642.2 513.4,704.7 504.7,648.6 496.1,724.8 487.4,730.9 478.7,775 470,738.6 461.3,775 452.6,775 443.9,716.6 435.2,775 426.5,775 417.8,739.2 409.2,672.5 400.5,700 391.8,657.4 383.1,696.6 374.4,775 365.7,775 357,623.3 348.3,616.2 339.6,612.4 330.9,606.4 322.3,606.5 313.6,602.2 304.9,598.5 296.2,590.8 287.5,586.1 281.3,581.9 281.3,551.9 290,554.8 298.7,563.6 307.4,568.1 316.1,574 324.8,581.3 333.4,588.2 342.1,595.6 350.8,601.2 359.5,610.2 368.2,627.8 376.9,634.2 385.6,645.8 394.3,691.8 403,659.7 411.7,775 420.3,775 429,737.9 437.7,738.2 446.4,775 455.1,737.9 463.8,663.5 472.5,711.8 481.2,674 489.9,710.1 498.6,690.6 507.2,775 515.9,692.6 524.6,775 533.3,775 542,775 550.7,723.9 559.4,775 568.1,775 576.8,685.6 585.5,681.5 594.1,709.9 602.8,775 611.5,649.3 620.2,775" fill="none" stroke="#6b9bd2" stroke-width="5.0" stroke-linejoin="round" stroke-linecap="round" />
<polyline points="629.1,676 637.8,717.6 646.5,706.8 655.2,723.2 663.8,704 672.5,707.2 681.2,713.4 689.9,696.8 698.6,660.7 707.3,775 716,696.9 724.7,713.4 733.4,664.7 742.1,673.5 750.7,669.8 759.4,661.9 768.1,664.7 776.8,702.4 785.5,665.8 794.2,775 802.9,697.2 811.6,699.6 820.3,669.3 829,666.8 837.6,685.6 846.3,688.6 855,705.5 863.7,687.2 872.4,678.2 881.1,666.5 883.7,718.8 883.7,104.2 928.7,97 976.6,87.2 971.5,85.8 964.4,88.3 956,91.4 947,94.9 938.1,98.7 930,102.8 922.3,107.5 914.5,112.9 906.8,118.6 899.4,124.3 892.5,129.6 886.3,134.1 881,137.8 876.3,141 872.2,143.7 868.4,146.2 864,148.7 860.7,151.2 857.6,153.7 855.1,155.9 852.8,158 850.6,160.3 848.2,163 845.5,166.4 842.2,170.7 838.6,175.6 834.9,180.9 831.2,186.4 827.7,191.8 824.6,196.8 821.9,201.4 819.4,205.8 817.2,210.1 815.1,214.4 813.2,218.8 811.3,223.4 809.5,228.3 807.8,233.2 806.3,238.3 804.8,243.4 803.3,248.6 801.8,253.8 800.2,259.2 798.5,264.6 796.9,270.1 795.3,275.6 793.7,281 792.3,286.1 790.8,291.1 789.5,295.9 788.2,300.6 786.9,305.3 785.7,309.9 784.7,314.6 783.7,319.5 782.8,324.5 781.9,329.5 781.2,334.4 780.5,339 780,343.2 779.5,347.2 779.1,351 778.9,354.5 778.7,357.7 778.5,360.3 778.4,362.2 776.3,358 775.8,619.7 767.6,658.8 758.9,630.7 750.2,648.8 741.5,677.9 732.8,694.9 724.1,683.5 715.4,692.7 706.8,705.1 698.1,700.1 689.4,666 680.7,703.1 672,674.8 663.3,719.2 654.6,709.1 645.9,683 637.2,666.1 628.7,694.2 620,703.8 611.3,666.1 602.6,667.1 594,701.3 585.3,651 576.6,655 567.9,658.1 559.2,720.1 550.5,665.9 541.8,721.5 533.1,707.6 524.4,651.5 515.7,696.5 507.1,661.3 498.4,673.2 489.7,677.4 481,678.4 472.3,701 463.6,695.9 454.9,679.1 446.2,665.6 437.5,677.4 428.8,720.4 420.2,677.5 411.5,694.2 402.8,727.4 394.1,678.1 385.4,686.2 376.7,664.4 368,672.1 359.3,629.1 350.6,613.8 341.9,606.8 333.3,602.6 324.6,598.3 315.9,596.2 307.2,590.6 298.5,587.2 289.8,583.7 281.3,579.2 281.3,549.5 290,553.9 298.7,560.1 307.4,567.4 316.1,573.9 324.8,577.9 333.4,584.3 342.1,594.1 350.8,602.6 359.5,610.5 368.2,623.5 376.9,630.4 385.6,653.3 394.3,775 403,686.4 411.7,710.3 420.3,775 429,707.9 437.7,690.1 446.4,696.4 455.1,677.4 463.8,668.3 472.5,721.5 481.2,662.9 489.9,695.9 498.6,680.7 507.2,775 515.9,679.2 524.6,727 533.3,725.3 542,703.2 550.7,669.3 559.4,706.4 568.1,692.5 576.8,670.6 585.5,689 594.1,666.1 602.8,727.3 611.5,719.1 620.2,662.7" fill="none" stroke="#6ab800" stroke-width="6.5" stroke-linejoin="round" stroke-linecap="round" />
<polyline points="630.5,655.2 639.2,698.1 647.9,667.1 656.6,700 665.3,702.9 674,661.1 682.7,705.7 691.4,704.6 700,709.1 708.7,684.8 717.4,701.9 726.1,712.7 734.8,679.1 743.5,723.6 752.2,675.3 760.9,700.5 769.6,688.4 778.3,680.7 786.9,666.1 795.6,665.3 804.3,689.7 813,677.1 821.7,671.5 830.4,722.6 839.1,684.4 847.8,689.8 856.5,717.1 865.2,690.2 873.8,687 882.5,668.4 885.3,671.2 885.3,104.2 928.7,97.8 976.6,85.8 971.5,88.1 964.4,90.7 956,93.7 947,97.3 938.1,101.1 930,105.2 922.3,109.9 914.5,115.2 906.8,121 899.4,126.7 892.5,132 886.3,136.5 881,140.2 876.3,143.3 872.2,146.1 868.4,148.6 864.9,151 861.6,153.6 858.6,156.1 856,158.2 853.8,160.4 851.5,162.7 849.2,165.4 846.4,168.8 843.2,173 839.6,177.9 835.8,183.3 832.1,188.8 828.6,194.2 825.5,199.2 822.8,203.8 820.4,208.2 818.1,212.5 816.1,216.8 814.1,221.2 812.2,225.8 810.4,230.6 808.8,235.6 807.2,240.6 805.7,245.8 804.2,251 802.7,256.2 801.1,261.5 799.5,267 797.8,272.5 796.2,277.9 794.7,283.3 793.2,288.5 791.8,293.5 790.4,298.3 789.1,303 787.8,307.6 786.7,312.3 785.6,317 784.6,321.9 783.7,326.9 782.9,331.9 782.1,336.8 781.5,341.4 780.9,345.6 780.4,349.5 780.1,353.3 779.8,356.9 779.6,360 779.4,362.6 779.3,364.6 778.8,357.4 778.3,623.8 770.1,647.1 761.4,672 752.7,670.2 744,675.3 735.4,675.1 726.7,663 718,659.1 709.3,695.6 700.6,681.9 691.9,716.9 683.2,691 674.5,710.3 665.8,697.7 657.1,673.8 648.5,693.7 639.8,666.6 631.1,716.2 627.3,650.8 618.6,704.3 609.9,664.6 601.2,717.8 592.5,699.7 583.8,667.8 575.1,694 566.4,704.8 557.8,698.6 549.1,703.5 540.4,719.5 531.7,722.3 523,680.6 514.3,680.4 505.6,678.1 496.9,708.5 488.2,722 479.5,707.8 470.9,677.7 462.2,687.6 453.5,702.2 444.8,653.8 436.1,724.4 427.4,723.8 418.7,722.6 410,685.5 401.3,673.5 392.6,701.2 384,652 375.3,719.9 366.6,660.4 357.9,626.3 349.2,614.7 340.5,605.7 331.8,603.8 323.1,600.5 314.4,595.8 305.7,592.6 297.1,586.9 288.4,581.8 281.3,580.1 281.3,521.9 290,556.7 298.7,562 307.4,564.9 316.1,573.9 324.8,580.9 333.4,586.8 342.1,591.5 350.8,599.3 359.5,609.3 368.2,622.8 376.9,630.2 385.6,663.6 394.3,671.9 403,709.7 411.7,688.7 420.3,681 429,705.6 437.7,692.1 446.4,660.3 455.1,658.4 463.8,700.9 472.5,718.1 481.2,678 489.9,673.1 498.6,676.2 507.2,711.3 515.9,701 524.6,682 533.3,663.3 542,706 550.7,669.4 559.4,699.2 568.1,697.4 576.8,775 585.5,682.4 594.1,708.1 602.8,715.8 611.5,668.8 620.2,654.5" fill="none" stroke="#6ab800" stroke-width="6.5" stroke-linejoin="round" stroke-linecap="round" />
</g>
<line x1="628.9" y1="63.5" x2="628.9" y2="92" stroke="#333" stroke-width="2.6" />
<line x1="628.9" y1="505" x2="628.9" y2="762.5" stroke="#333" stroke-width="2.6" />
<rect x="194.5" y="63.5" width="868" height="699" fill="none" stroke="#000" stroke-width="3"/>
<line x1="194.5" y1="754.4" x2="208" y2="754.4" stroke="#000" stroke-width="2.4" />
<line x1="194.5" y1="725.9" x2="201.5" y2="725.9" stroke="#000" stroke-width="2.2" />
<line x1="194.5" y1="709.3" x2="201.5" y2="709.3" stroke="#000" stroke-width="2.2" />
<line x1="194.5" y1="697.4" x2="201.5" y2="697.4" stroke="#000" stroke-width="2.2" />
<line x1="194.5" y1="688.3" x2="201.5" y2="688.3" stroke="#000" stroke-width="2.2" />
<line x1="194.5" y1="680.8" x2="201.5" y2="680.8" stroke="#000" stroke-width="2.2" />
<line x1="194.5" y1="674.5" x2="201.5" y2="674.5" stroke="#000" stroke-width="2.2" />
<line x1="194.5" y1="669" x2="201.5" y2="669" stroke="#000" stroke-width="2.2" />
<line x1="194.5" y1="664.1" x2="201.5" y2="664.1" stroke="#000" stroke-width="2.2" />
<line x1="194.5" y1="659.8" x2="208" y2="659.8" stroke="#000" stroke-width="2.4" />
<line x1="194.5" y1="631.3" x2="201.5" y2="631.3" stroke="#000" stroke-width="2.2" />
<line x1="194.5" y1="614.7" x2="201.5" y2="614.7" stroke="#000" stroke-width="2.2" />
<line x1="194.5" y1="602.8" x2="201.5" y2="602.8" stroke="#000" stroke-width="2.2" />
<line x1="194.5" y1="593.7" x2="201.5" y2="593.7" stroke="#000" stroke-width="2.2" />
<line x1="194.5" y1="586.2" x2="201.5" y2="586.2" stroke="#000" stroke-width="2.2" />
<line x1="194.5" y1="579.9" x2="201.5" y2="579.9" stroke="#000" stroke-width="2.2" />
<line x1="194.5" y1="574.4" x2="201.5" y2="574.4" stroke="#000" stroke-width="2.2" />
<line x1="194.5" y1="569.5" x2="201.5" y2="569.5" stroke="#000" stroke-width="2.2" />
<line x1="194.5" y1="565.2" x2="208" y2="565.2" stroke="#000" stroke-width="2.4" />
<line x1="194.5" y1="536.7" x2="201.5" y2="536.7" stroke="#000" stroke-width="2.2" />
<line x1="194.5" y1="520.1" x2="201.5" y2="520.1" stroke="#000" stroke-width="2.2" />
<line x1="194.5" y1="508.2" x2="201.5" y2="508.2" stroke="#000" stroke-width="2.2" />
<line x1="194.5" y1="499.1" x2="201.5" y2="499.1" stroke="#000" stroke-width="2.2" />
<line x1="194.5" y1="491.6" x2="201.5" y2="491.6" stroke="#000" stroke-width="2.2" />
<line x1="194.5" y1="485.3" x2="201.5" y2="485.3" stroke="#000" stroke-width="2.2" />
<line x1="194.5" y1="479.8" x2="201.5" y2="479.8" stroke="#000" stroke-width="2.2" />
<line x1="194.5" y1="474.9" x2="201.5" y2="474.9" stroke="#000" stroke-width="2.2" />
<line x1="194.5" y1="470.6" x2="208" y2="470.6" stroke="#000" stroke-width="2.4" />
<line x1="194.5" y1="442.1" x2="201.5" y2="442.1" stroke="#000" stroke-width="2.2" />
<line x1="194.5" y1="425.5" x2="201.5" y2="425.5" stroke="#000" stroke-width="2.2" />
<line x1="194.5" y1="413.6" x2="201.5" y2="413.6" stroke="#000" stroke-width="2.2" />
<line x1="194.5" y1="404.5" x2="201.5" y2="404.5" stroke="#000" stroke-width="2.2" />
<line x1="194.5" y1="397" x2="201.5" y2="397" stroke="#000" stroke-width="2.2" />
<line x1="194.5" y1="390.7" x2="201.5" y2="390.7" stroke="#000" stroke-width="2.2" />
<line x1="194.5" y1="385.2" x2="201.5" y2="385.2" stroke="#000" stroke-width="2.2" />
<line x1="194.5" y1="380.3" x2="201.5" y2="380.3" stroke="#000" stroke-width="2.2" />
<line x1="194.5" y1="376" x2="208" y2="376" stroke="#000" stroke-width="2.4" />
<line x1="194.5" y1="347.5" x2="201.5" y2="347.5" stroke="#000" stroke-width="2.2" />
<line x1="194.5" y1="330.9" x2="201.5" y2="330.9" stroke="#000" stroke-width="2.2" />
<line x1="194.5" y1="319" x2="201.5" y2="319" stroke="#000" stroke-width="2.2" />
<line x1="194.5" y1="309.9" x2="201.5" y2="309.9" stroke="#000" stroke-width="2.2" />
<line x1="194.5" y1="302.4" x2="201.5" y2="302.4" stroke="#000" stroke-width="2.2" />
<line x1="194.5" y1="296.1" x2="201.5" y2="296.1" stroke="#000" stroke-width="2.2" />
<line x1="194.5" y1="290.6" x2="201.5" y2="290.6" stroke="#000" stroke-width="2.2" />
<line x1="194.5" y1="285.7" x2="201.5" y2="285.7" stroke="#000" stroke-width="2.2" />
<line x1="194.5" y1="281.4" x2="208" y2="281.4" stroke="#000" stroke-width="2.4" />
<line x1="194.5" y1="252.9" x2="201.5" y2="252.9" stroke="#000" stroke-width="2.2" />
<line x1="194.5" y1="236.3" x2="201.5" y2="236.3" stroke="#000" stroke-width="2.2" />
<line x1="194.5" y1="224.4" x2="201.5" y2="224.4" stroke="#000" stroke-width="2.2" />
<line x1="194.5" y1="215.3" x2="201.5" y2="215.3" stroke="#000" stroke-width="2.2" />
<line x1="194.5" y1="207.8" x2="201.5" y2="207.8" stroke="#000" stroke-width="2.2" />
<line x1="194.5" y1="201.5" x2="201.5" y2="201.5" stroke="#000" stroke-width="2.2" />
<line x1="194.5" y1="196" x2="201.5" y2="196" stroke="#000" stroke-width="2.2" />
<line x1="194.5" y1="191.1" x2="201.5" y2="191.1" stroke="#000" stroke-width="2.2" />
<line x1="194.5" y1="186.8" x2="208" y2="186.8" stroke="#000" stroke-width="2.4" />
<line x1="194.5" y1="158.3" x2="201.5" y2="158.3" stroke="#000" stroke-width="2.2" />
<line x1="194.5" y1="141.7" x2="201.5" y2="141.7" stroke="#000" stroke-width="2.2" />
<line x1="194.5" y1="129.8" x2="201.5" y2="129.8" stroke="#000" stroke-width="2.2" />
<line x1="194.5" y1="120.7" x2="201.5" y2="120.7" stroke="#000" stroke-width="2.2" />
<line x1="194.5" y1="113.2" x2="201.5" y2="113.2" stroke="#000" stroke-width="2.2" />
<line x1="194.5" y1="106.9" x2="201.5" y2="106.9" stroke="#000" stroke-width="2.2" />
<line x1="194.5" y1="101.4" x2="201.5" y2="101.4" stroke="#000" stroke-width="2.2" />
<line x1="194.5" y1="96.5" x2="201.5" y2="96.5" stroke="#000" stroke-width="2.2" />
<line x1="194.5" y1="92.2" x2="208" y2="92.2" stroke="#000" stroke-width="2.4" />
<line x1="237.8" y1="762.5" x2="237.8" y2="755.5" stroke="#000" stroke-width="2.4" />
<line x1="281.3" y1="762.5" x2="281.3" y2="748.5" stroke="#000" stroke-width="2.4" />
<line x1="324.7" y1="762.5" x2="324.7" y2="755.5" stroke="#000" stroke-width="2.4" />
<line x1="368.2" y1="762.5" x2="368.2" y2="748.5" stroke="#000" stroke-width="2.4" />
<line x1="411.6" y1="762.5" x2="411.6" y2="755.5" stroke="#000" stroke-width="2.4" />
<line x1="455.1" y1="762.5" x2="455.1" y2="748.5" stroke="#000" stroke-width="2.4" />
<line x1="498.5" y1="762.5" x2="498.5" y2="755.5" stroke="#000" stroke-width="2.4" />
<line x1="542" y1="762.5" x2="542" y2="748.5" stroke="#000" stroke-width="2.4" />
<line x1="585.4" y1="762.5" x2="585.4" y2="755.5" stroke="#000" stroke-width="2.4" />
<line x1="628.9" y1="762.5" x2="628.9" y2="748.5" stroke="#000" stroke-width="2.4" />
<line x1="672.4" y1="762.5" x2="672.4" y2="755.5" stroke="#000" stroke-width="2.4" />
<line x1="715.8" y1="762.5" x2="715.8" y2="748.5" stroke="#000" stroke-width="2.4" />
<line x1="759.2" y1="762.5" x2="759.2" y2="755.5" stroke="#000" stroke-width="2.4" />
<line x1="802.7" y1="762.5" x2="802.7" y2="748.5" stroke="#000" stroke-width="2.4" />
<line x1="846.1" y1="762.5" x2="846.1" y2="755.5" stroke="#000" stroke-width="2.4" />
<line x1="889.6" y1="762.5" x2="889.6" y2="748.5" stroke="#000" stroke-width="2.4" />
<line x1="933" y1="762.5" x2="933" y2="755.5" stroke="#000" stroke-width="2.4" />
<line x1="976.5" y1="762.5" x2="976.5" y2="748.5" stroke="#000" stroke-width="2.4" />
<line x1="1020" y1="762.5" x2="1020" y2="755.5" stroke="#000" stroke-width="2.4" />
<text x="180.5" y="107.7" font-size="43" text-anchor="end" fill="#111">10<tspan font-size="30" dy="-19.5">−4</tspan></text>
<text x="180.5" y="202.3" font-size="43" text-anchor="end" fill="#111">10<tspan font-size="30" dy="-19.5">−5</tspan></text>
<text x="180.5" y="296.9" font-size="43" text-anchor="end" fill="#111">10<tspan font-size="30" dy="-19.5">−6</tspan></text>
<text x="180.5" y="391.5" font-size="43" text-anchor="end" fill="#111">10<tspan font-size="30" dy="-19.5">−7</tspan></text>
<text x="180.5" y="486.1" font-size="43" text-anchor="end" fill="#111">10<tspan font-size="30" dy="-19.5">−8</tspan></text>
<text x="180.5" y="580.7" font-size="43" text-anchor="end" fill="#111">10<tspan font-size="30" dy="-19.5">−9</tspan></text>
<text x="180.5" y="675.3" font-size="43" text-anchor="end" fill="#111">10<tspan font-size="30" dy="-19.5">−10</tspan></text>
<text x="180.5" y="769.9" font-size="43" text-anchor="end" fill="#111">10<tspan font-size="30" dy="-19.5">−11</tspan></text>
<text x="194.4" y="812.3" font-size="43" text-anchor="middle" fill="#111" >−10</text>
<text x="281.3" y="812.3" font-size="43" text-anchor="middle" fill="#111" >−8</text>
<text x="368.2" y="812.3" font-size="43" text-anchor="middle" fill="#111" >−6</text>
<text x="455.1" y="812.3" font-size="43" text-anchor="middle" fill="#111" >−4</text>
<text x="542" y="812.3" font-size="43" text-anchor="middle" fill="#111" >−2</text>
<text x="628.9" y="812.3" font-size="43" text-anchor="middle" fill="#111" >0</text>
<text x="715.8" y="812.3" font-size="43" text-anchor="middle" fill="#111" >2</text>
<text x="802.7" y="812.3" font-size="43" text-anchor="middle" fill="#111" >4</text>
<text x="889.6" y="812.3" font-size="43" text-anchor="middle" fill="#111" >6</text>
<text x="976.5" y="812.3" font-size="43" text-anchor="middle" fill="#111" >8</text>
<text x="1063.4" y="812.3" font-size="43" text-anchor="middle" fill="#111" >10</text>
<text x="630" y="895" font-size="58" text-anchor="middle" fill="#111"><tspan font-style="italic">V</tspan> (V)</text>
<text transform="translate(62,413) rotate(-90)" font-size="60" text-anchor="middle" fill="#111">|<tspan font-style="italic">I</tspan>| (A)</text>
<line x1="786" y1="236.1" x2="748" y2="322.5" stroke="#000" stroke-width="2.6" />
<polygon points="741.6,337.5 745.7,312 757.6,317.2" fill="#000"/>
<line x1="929.7" y1="470.5" x2="929.7" y2="370" stroke="#000" stroke-width="2.6" />
<polygon points="929.7,351.4 936,375.4 923.4,375.4" fill="#000"/>
<text x="915" y="530.5" font-size="42" fill="#111">V<tspan font-size="29" dy="11.5">c</tspan></text>
<rect x="262" y="92" width="454" height="414" fill="#fff"/>
<rect x="351.8" y="378.7" width="19" height="19" fill="#000"/>
<rect x="404.6" y="365.5" width="19" height="19" fill="#000"/>
<rect x="457.3" y="331.2" width="19" height="19" fill="#000"/>
<rect x="510.1" y="132.3" width="19" height="19" fill="#000"/>
<rect x="562.8" y="328.9" width="19" height="19" fill="#000"/>
<rect x="615.5" y="376" width="19" height="19" fill="#000"/>
<rect x="668.3" y="378.7" width="19" height="19" fill="#000"/>
<polyline points="361.3,385.5 363.9,385.5 366.6,385.5 369.2,385.5 371.9,385.5 374.5,385.5 377.1,385.5 379.8,385.5 382.4,385.5 385,385.5 387.7,385.5 390.3,385.5 393,385.5 395.6,385.5 398.2,385.5 400.9,385.4 403.5,385.4 406.1,385.4 408.8,385.3 411.4,385.2 414.1,385.1 416.7,384.9 419.3,384.7 422,384.4 424.6,384 427.2,383.5 429.9,382.8 432.5,382 435.2,381 437.8,379.8 440.4,378.3 443.1,376.4 445.7,374.1 448.3,371.4 451,368.2 453.6,364.3 456.3,359.9 458.9,354.8 461.5,348.9 464.2,342.2 466.8,334.7 469.4,326.4 472.1,317.2 474.7,307.2 477.4,296.5 480,285.1 482.6,273.1 485.3,260.6 487.9,247.9 490.5,235 493.2,222.2 495.8,209.6 498.5,197.6 501.1,186.3 503.7,176 506.4,166.8 509,159 511.6,152.7 514.3,148.2 516.9,145.4 519.6,144.4 522.2,145.4 524.8,148.2 527.5,152.7 530.1,159 532.7,166.8 535.4,176 538,186.3 540.7,197.6 543.3,209.6 545.9,222.2 548.6,235 551.2,247.9 553.8,260.6 556.5,273.1 559.1,285.1 561.8,296.5 564.4,307.2 567,317.2 569.7,326.4 572.3,334.7 574.9,342.2 577.6,348.9 580.2,354.8 582.9,359.9 585.5,364.3 588.1,368.2 590.8,371.4 593.4,374.1 596,376.4 598.7,378.3 601.3,379.8 604,381 606.6,382 609.2,382.8 611.9,383.5 614.5,384 617.1,384.4 619.8,384.7 622.4,384.9 625.1,385.1 627.7,385.2 630.3,385.3 633,385.4 635.6,385.4 638.2,385.4 640.9,385.5 643.5,385.5 646.2,385.5 648.8,385.5 651.4,385.5 654.1,385.5 656.7,385.5 659.3,385.5 662,385.5 664.6,385.5 667.3,385.5 669.9,385.5 672.5,385.5 675.2,385.5 677.8,385.5" fill="none" stroke="#ff0000" stroke-width="5" stroke-linejoin="round" stroke-linecap="round" />
<rect x="335.5" y="106.1" width="368.1" height="302.2" fill="none" stroke="#777" stroke-width="2.6"/>
<line x1="335.5" y1="389.3" x2="341" y2="389.3" stroke="#555" stroke-width="2" />
<line x1="335.5" y1="370.5" x2="338.5" y2="370.5" stroke="#555" stroke-width="2" />
<line x1="335.5" y1="351.6" x2="341" y2="351.6" stroke="#555" stroke-width="2" />
<line x1="335.5" y1="332.8" x2="338.5" y2="332.8" stroke="#555" stroke-width="2" />
<line x1="335.5" y1="314" x2="341" y2="314" stroke="#555" stroke-width="2" />
<line x1="335.5" y1="295.1" x2="338.5" y2="295.1" stroke="#555" stroke-width="2" />
<line x1="335.5" y1="276.3" x2="341" y2="276.3" stroke="#555" stroke-width="2" />
<line x1="335.5" y1="257.5" x2="338.5" y2="257.5" stroke="#555" stroke-width="2" />
<line x1="335.5" y1="238.6" x2="341" y2="238.6" stroke="#555" stroke-width="2" />
<line x1="335.5" y1="219.8" x2="338.5" y2="219.8" stroke="#555" stroke-width="2" />
<line x1="335.5" y1="201" x2="341" y2="201" stroke="#555" stroke-width="2" />
<line x1="335.5" y1="182.1" x2="338.5" y2="182.1" stroke="#555" stroke-width="2" />
<line x1="335.5" y1="163.3" x2="341" y2="163.3" stroke="#555" stroke-width="2" />
<line x1="335.5" y1="144.4" x2="338.5" y2="144.4" stroke="#555" stroke-width="2" />
<line x1="335.5" y1="125.6" x2="341" y2="125.6" stroke="#555" stroke-width="2" />
<line x1="361.3" y1="408.3" x2="361.3" y2="402.8" stroke="#555" stroke-width="2" />
<line x1="414" y1="408.3" x2="414" y2="405.3" stroke="#555" stroke-width="2" />
<line x1="466.8" y1="408.3" x2="466.8" y2="402.8" stroke="#555" stroke-width="2" />
<line x1="519.6" y1="408.3" x2="519.6" y2="405.3" stroke="#555" stroke-width="2" />
<line x1="572.3" y1="408.3" x2="572.3" y2="402.8" stroke="#555" stroke-width="2" />
<line x1="625" y1="408.3" x2="625" y2="405.3" stroke="#555" stroke-width="2" />
<line x1="677.8" y1="408.3" x2="677.8" y2="402.8" stroke="#555" stroke-width="2" />
<text x="330" y="399.6" font-size="32" text-anchor="end" fill="#333" >0</text>
<text x="330" y="361.9" font-size="32" text-anchor="end" fill="#333" >100</text>
<text x="330" y="324.3" font-size="32" text-anchor="end" fill="#333" >200</text>
<text x="330" y="286.6" font-size="32" text-anchor="end" fill="#333" >300</text>
<text x="330" y="248.9" font-size="32" text-anchor="end" fill="#333" >400</text>
<text x="330" y="211.3" font-size="32" text-anchor="end" fill="#333" >500</text>
<text x="330" y="173.6" font-size="32" text-anchor="end" fill="#333" >600</text>
<text x="330" y="135.9" font-size="32" text-anchor="end" fill="#333" >700</text>
<text x="362.3" y="440" font-size="31.5" text-anchor="middle" fill="#333" >5.6</text>
<text x="467.8" y="440" font-size="31.5" text-anchor="middle" fill="#333" >5.7</text>
<text x="573.3" y="440" font-size="31.5" text-anchor="middle" fill="#333" >5.8</text>
<text x="678.8" y="440" font-size="31.5" text-anchor="middle" fill="#333" >5.9</text>
<text transform="translate(268.8,255.8) rotate(-90)" font-size="48.5" text-anchor="middle" fill="#222">Counts</text>
<text x="462" y="488" font-size="46" fill="#222"><tspan font-style="italic">V</tspan><tspan font-size="31" dy="12">c</tspan><tspan dy="-12"> (V)</tspan></text>
<text transform="translate(49,72.3) scale(0.92,1)" font-size="97" font-weight="bold" font-family="'Liberation Serif', 'Times New Roman', serif" fill="#000">a</text>
<line x1="1397" y1="62.6" x2="2257.5" y2="62.6" stroke="#585858" stroke-width="4.6" stroke-linecap="square"/>
<line x1="1397" y1="62.6" x2="1397" y2="752.3" stroke="#585858" stroke-width="4.6" stroke-linecap="square"/>
<line x1="2257.5" y1="62.6" x2="2257.5" y2="752.3" stroke="#585858" stroke-width="4.6" stroke-linecap="square"/>
<line x1="1396" y1="752.3" x2="2258.5" y2="752.3" stroke="#000" stroke-width="3.0" />
<line x1="1397" y1="726.7" x2="1404.5" y2="726.7" stroke="#111" stroke-width="2.3" />
<line x1="1397" y1="710.9" x2="1404.5" y2="710.9" stroke="#111" stroke-width="2.3" />
<line x1="1397" y1="699.7" x2="1404.5" y2="699.7" stroke="#111" stroke-width="2.3" />
<line x1="1397" y1="691" x2="1404.5" y2="691" stroke="#111" stroke-width="2.3" />
<line x1="1397" y1="683.9" x2="1404.5" y2="683.9" stroke="#111" stroke-width="2.3" />
<line x1="1397" y1="677.9" x2="1404.5" y2="677.9" stroke="#111" stroke-width="2.3" />
<line x1="1397" y1="672.7" x2="1404.5" y2="672.7" stroke="#111" stroke-width="2.3" />
<line x1="1397" y1="668.1" x2="1404.5" y2="668.1" stroke="#111" stroke-width="2.3" />
<line x1="1397" y1="664" x2="1411" y2="664" stroke="#111" stroke-width="2.6" />
<line x1="1397" y1="637" x2="1404.5" y2="637" stroke="#111" stroke-width="2.3" />
<line x1="1397" y1="621.2" x2="1404.5" y2="621.2" stroke="#111" stroke-width="2.3" />
<line x1="1397" y1="610" x2="1404.5" y2="610" stroke="#111" stroke-width="2.3" />
<line x1="1397" y1="601.3" x2="1404.5" y2="601.3" stroke="#111" stroke-width="2.3" />
<line x1="1397" y1="594.2" x2="1404.5" y2="594.2" stroke="#111" stroke-width="2.3" />
<line x1="1397" y1="588.2" x2="1404.5" y2="588.2" stroke="#111" stroke-width="2.3" />
<line x1="1397" y1="583" x2="1404.5" y2="583" stroke="#111" stroke-width="2.3" />
<line x1="1397" y1="578.4" x2="1404.5" y2="578.4" stroke="#111" stroke-width="2.3" />
<line x1="1397" y1="574.3" x2="1411" y2="574.3" stroke="#111" stroke-width="2.6" />
<line x1="1397" y1="547.3" x2="1404.5" y2="547.3" stroke="#111" stroke-width="2.3" />
<line x1="1397" y1="531.5" x2="1404.5" y2="531.5" stroke="#111" stroke-width="2.3" />
<line x1="1397" y1="520.3" x2="1404.5" y2="520.3" stroke="#111" stroke-width="2.3" />
<line x1="1397" y1="511.6" x2="1404.5" y2="511.6" stroke="#111" stroke-width="2.3" />
<line x1="1397" y1="504.5" x2="1404.5" y2="504.5" stroke="#111" stroke-width="2.3" />
<line x1="1397" y1="498.5" x2="1404.5" y2="498.5" stroke="#111" stroke-width="2.3" />
<line x1="1397" y1="493.3" x2="1404.5" y2="493.3" stroke="#111" stroke-width="2.3" />
<line x1="1397" y1="488.7" x2="1404.5" y2="488.7" stroke="#111" stroke-width="2.3" />
<line x1="1397" y1="484.6" x2="1411" y2="484.6" stroke="#111" stroke-width="2.6" />
<line x1="1397" y1="457.6" x2="1404.5" y2="457.6" stroke="#111" stroke-width="2.3" />
<line x1="1397" y1="441.8" x2="1404.5" y2="441.8" stroke="#111" stroke-width="2.3" />
<line x1="1397" y1="430.6" x2="1404.5" y2="430.6" stroke="#111" stroke-width="2.3" />
<line x1="1397" y1="421.9" x2="1404.5" y2="421.9" stroke="#111" stroke-width="2.3" />
<line x1="1397" y1="414.8" x2="1404.5" y2="414.8" stroke="#111" stroke-width="2.3" />
<line x1="1397" y1="408.8" x2="1404.5" y2="408.8" stroke="#111" stroke-width="2.3" />
<line x1="1397" y1="403.6" x2="1404.5" y2="403.6" stroke="#111" stroke-width="2.3" />
<line x1="1397" y1="399" x2="1404.5" y2="399" stroke="#111" stroke-width="2.3" />
<line x1="1397" y1="394.9" x2="1411" y2="394.9" stroke="#111" stroke-width="2.6" />
<line x1="1397" y1="367.9" x2="1404.5" y2="367.9" stroke="#111" stroke-width="2.3" />
<line x1="1397" y1="352.1" x2="1404.5" y2="352.1" stroke="#111" stroke-width="2.3" />
<line x1="1397" y1="340.9" x2="1404.5" y2="340.9" stroke="#111" stroke-width="2.3" />
<line x1="1397" y1="332.2" x2="1404.5" y2="332.2" stroke="#111" stroke-width="2.3" />
<line x1="1397" y1="325.1" x2="1404.5" y2="325.1" stroke="#111" stroke-width="2.3" />
<line x1="1397" y1="319.1" x2="1404.5" y2="319.1" stroke="#111" stroke-width="2.3" />
<line x1="1397" y1="313.9" x2="1404.5" y2="313.9" stroke="#111" stroke-width="2.3" />
<line x1="1397" y1="309.3" x2="1404.5" y2="309.3" stroke="#111" stroke-width="2.3" />
<line x1="1397" y1="305.2" x2="1411" y2="305.2" stroke="#111" stroke-width="2.6" />
<line x1="1397" y1="278.2" x2="1404.5" y2="278.2" stroke="#111" stroke-width="2.3" />
<line x1="1397" y1="262.4" x2="1404.5" y2="262.4" stroke="#111" stroke-width="2.3" />
<line x1="1397" y1="251.2" x2="1404.5" y2="251.2" stroke="#111" stroke-width="2.3" />
<line x1="1397" y1="242.5" x2="1404.5" y2="242.5" stroke="#111" stroke-width="2.3" />
<line x1="1397" y1="235.4" x2="1404.5" y2="235.4" stroke="#111" stroke-width="2.3" />
<line x1="1397" y1="229.4" x2="1404.5" y2="229.4" stroke="#111" stroke-width="2.3" />
<line x1="1397" y1="224.2" x2="1404.5" y2="224.2" stroke="#111" stroke-width="2.3" />
<line x1="1397" y1="219.6" x2="1404.5" y2="219.6" stroke="#111" stroke-width="2.3" />
<line x1="1397" y1="215.5" x2="1411" y2="215.5" stroke="#111" stroke-width="2.6" />
<line x1="1397" y1="188.5" x2="1404.5" y2="188.5" stroke="#111" stroke-width="2.3" />
<line x1="1397" y1="172.7" x2="1404.5" y2="172.7" stroke="#111" stroke-width="2.3" />
<line x1="1397" y1="161.5" x2="1404.5" y2="161.5" stroke="#111" stroke-width="2.3" />
<line x1="1397" y1="152.8" x2="1404.5" y2="152.8" stroke="#111" stroke-width="2.3" />
<line x1="1397" y1="145.7" x2="1404.5" y2="145.7" stroke="#111" stroke-width="2.3" />
<line x1="1397" y1="139.7" x2="1404.5" y2="139.7" stroke="#111" stroke-width="2.3" />
<line x1="1397" y1="134.5" x2="1404.5" y2="134.5" stroke="#111" stroke-width="2.3" />
<line x1="1397" y1="129.9" x2="1404.5" y2="129.9" stroke="#111" stroke-width="2.3" />
<line x1="1397" y1="125.8" x2="1411" y2="125.8" stroke="#111" stroke-width="2.6" />
<line x1="1397" y1="98.8" x2="1404.5" y2="98.8" stroke="#111" stroke-width="2.3" />
<line x1="1397" y1="83" x2="1404.5" y2="83" stroke="#111" stroke-width="2.3" />
<line x1="1397" y1="71.8" x2="1404.5" y2="71.8" stroke="#111" stroke-width="2.3" />
<line x1="2257.5" y1="751.8" x2="2243" y2="751.8" stroke="#111" stroke-width="2.6" />
<line x1="2257.5" y1="682.6" x2="2250" y2="682.6" stroke="#111" stroke-width="2.3" />
<line x1="2257.5" y1="642.2" x2="2250" y2="642.2" stroke="#111" stroke-width="2.3" />
<line x1="2257.5" y1="613.4" x2="2250" y2="613.4" stroke="#111" stroke-width="2.3" />
<line x1="2257.5" y1="591.2" x2="2250" y2="591.2" stroke="#111" stroke-width="2.3" />
<line x1="2257.5" y1="573" x2="2250" y2="573" stroke="#111" stroke-width="2.3" />
<line x1="2257.5" y1="557.6" x2="2250" y2="557.6" stroke="#111" stroke-width="2.3" />
<line x1="2257.5" y1="544.3" x2="2250" y2="544.3" stroke="#111" stroke-width="2.3" />
<line x1="2257.5" y1="532.5" x2="2250" y2="532.5" stroke="#111" stroke-width="2.3" />
<line x1="2257.5" y1="522" x2="2243" y2="522" stroke="#111" stroke-width="2.6" />
<line x1="2257.5" y1="452.8" x2="2250" y2="452.8" stroke="#111" stroke-width="2.3" />
<line x1="2257.5" y1="412.4" x2="2250" y2="412.4" stroke="#111" stroke-width="2.3" />
<line x1="2257.5" y1="383.6" x2="2250" y2="383.6" stroke="#111" stroke-width="2.3" />
<line x1="2257.5" y1="361.4" x2="2250" y2="361.4" stroke="#111" stroke-width="2.3" />
<line x1="2257.5" y1="343.2" x2="2250" y2="343.2" stroke="#111" stroke-width="2.3" />
<line x1="2257.5" y1="327.8" x2="2250" y2="327.8" stroke="#111" stroke-width="2.3" />
<line x1="2257.5" y1="314.5" x2="2250" y2="314.5" stroke="#111" stroke-width="2.3" />
<line x1="2257.5" y1="302.7" x2="2250" y2="302.7" stroke="#111" stroke-width="2.3" />
<line x1="2257.5" y1="292.2" x2="2243" y2="292.2" stroke="#111" stroke-width="2.6" />
<line x1="2257.5" y1="223" x2="2250" y2="223" stroke="#111" stroke-width="2.3" />
<line x1="2257.5" y1="182.6" x2="2250" y2="182.6" stroke="#111" stroke-width="2.3" />
<line x1="2257.5" y1="153.8" x2="2250" y2="153.8" stroke="#111" stroke-width="2.3" />
<line x1="2257.5" y1="131.6" x2="2250" y2="131.6" stroke="#111" stroke-width="2.3" />
<line x1="2257.5" y1="113.4" x2="2250" y2="113.4" stroke="#111" stroke-width="2.3" />
<line x1="2257.5" y1="98" x2="2250" y2="98" stroke="#111" stroke-width="2.3" />
<line x1="2257.5" y1="84.7" x2="2250" y2="84.7" stroke="#111" stroke-width="2.3" />
<line x1="2257.5" y1="72.9" x2="2250" y2="72.9" stroke="#111" stroke-width="2.3" />
<line x1="2257.5" y1="62.4" x2="2243" y2="62.4" stroke="#111" stroke-width="2.6" />
<line x1="1398.4" y1="752.3" x2="1398.4" y2="745.3" stroke="#111" stroke-width="2.6" />
<line x1="1459.5" y1="752.3" x2="1459.5" y2="738.3" stroke="#111" stroke-width="2.6" />
<line x1="1520.6" y1="752.3" x2="1520.6" y2="745.3" stroke="#111" stroke-width="2.6" />
<line x1="1581.7" y1="752.3" x2="1581.7" y2="738.3" stroke="#111" stroke-width="2.6" />
<line x1="1642.8" y1="752.3" x2="1642.8" y2="745.3" stroke="#111" stroke-width="2.6" />
<line x1="1703.9" y1="752.3" x2="1703.9" y2="738.3" stroke="#111" stroke-width="2.6" />
<line x1="1765" y1="752.3" x2="1765" y2="745.3" stroke="#111" stroke-width="2.6" />
<line x1="1826.1" y1="752.3" x2="1826.1" y2="738.3" stroke="#111" stroke-width="2.6" />
<line x1="1887.2" y1="752.3" x2="1887.2" y2="745.3" stroke="#111" stroke-width="2.6" />
<line x1="1948.3" y1="752.3" x2="1948.3" y2="738.3" stroke="#111" stroke-width="2.6" />
<line x1="2009.4" y1="752.3" x2="2009.4" y2="745.3" stroke="#111" stroke-width="2.6" />
<line x1="2070.5" y1="752.3" x2="2070.5" y2="738.3" stroke="#111" stroke-width="2.6" />
<line x1="2131.6" y1="752.3" x2="2131.6" y2="745.3" stroke="#111" stroke-width="2.6" />
<line x1="2192.7" y1="752.3" x2="2192.7" y2="738.3" stroke="#111" stroke-width="2.6" />
<line x1="2253.8" y1="752.3" x2="2253.8" y2="745.3" stroke="#111" stroke-width="2.6" />
<text x="1382.5" y="141" font-size="42.5" text-anchor="end" fill="#111">10<tspan font-size="30" dy="-18">-4</tspan></text>
<text x="1382.5" y="230.7" font-size="42.5" text-anchor="end" fill="#111">10<tspan font-size="30" dy="-18">-5</tspan></text>
<text x="1382.5" y="320.4" font-size="42.5" text-anchor="end" fill="#111">10<tspan font-size="30" dy="-18">-6</tspan></text>
<text x="1382.5" y="410.1" font-size="42.5" text-anchor="end" fill="#111">10<tspan font-size="30" dy="-18">-7</tspan></text>
<text x="1382.5" y="499.8" font-size="42.5" text-anchor="end" fill="#111">10<tspan font-size="30" dy="-18">-8</tspan></text>
<text x="1382.5" y="589.5" font-size="42.5" text-anchor="end" fill="#111">10<tspan font-size="30" dy="-18">-9</tspan></text>
<text x="1382.5" y="679.2" font-size="42.5" text-anchor="end" fill="#111">10<tspan font-size="30" dy="-18">-10</tspan></text>
<text x="1382.5" y="768.9" font-size="42.5" text-anchor="end" fill="#111">10<tspan font-size="30" dy="-18">-11</tspan></text>
<text x="2274.5" y="767" font-size="42.5" text-anchor="start" fill="#111">10<tspan font-size="30" dy="-18">4</tspan></text>
<text x="2274.5" y="537.2" font-size="42.5" text-anchor="start" fill="#111">10<tspan font-size="30" dy="-18">5</tspan></text>
<text x="2274.5" y="307.4" font-size="42.5" text-anchor="start" fill="#111">10<tspan font-size="30" dy="-18">6</tspan></text>
<text x="2274.5" y="77.6" font-size="42.5" text-anchor="start" fill="#111">10<tspan font-size="30" dy="-18">7</tspan></text>
<text x="1459.5" y="801.3" font-size="43" text-anchor="middle" fill="#111" >100</text>
<text x="1581.7" y="801.3" font-size="43" text-anchor="middle" fill="#111" >150</text>
<text x="1703.9" y="801.3" font-size="43" text-anchor="middle" fill="#111" >200</text>
<text x="1826.1" y="801.3" font-size="43" text-anchor="middle" fill="#111" >250</text>
<text x="1948.3" y="801.3" font-size="43" text-anchor="middle" fill="#111" >300</text>
<text x="2070.5" y="801.3" font-size="43" text-anchor="middle" fill="#111" >350</text>
<text x="2192.7" y="801.3" font-size="43" text-anchor="middle" fill="#111" >400</text>
<text x="1825.5" y="884" font-size="59.5" text-anchor="middle" fill="#111" >Temperature (K)</text>
<text transform="translate(1273.5,408.1) rotate(-90)" font-size="59.3" text-anchor="middle" fill="#111">Read out current (A)</text>
<text transform="translate(2396.5,407) rotate(-90)" font-size="58.5" text-anchor="middle" fill="#111">On/off ratio</text>
<line x1="1474.6" y1="175.8" x2="1565.3" y2="165.3" stroke="#ff0000" stroke-width="4.2" />
<line x1="1601" y1="160.8" x2="1688.2" y2="148.9" stroke="#ff0000" stroke-width="4.2" />
<line x1="1724" y1="145.3" x2="1805" y2="140.5" stroke="#ff0000" stroke-width="4.2" />
<line x1="1841" y1="139.1" x2="1935.2" y2="137.4" stroke="#ff0000" stroke-width="4.2" />
<line x1="1971.2" y1="136.5" x2="2048.4" y2="133.7" stroke="#ff0000" stroke-width="4.2" />
<line x1="2084.4" y1="132" x2="2173" y2="126.9" stroke="#ff0000" stroke-width="4.2" />
<line x1="1474.5" y1="691.2" x2="1565.4" y2="676.9" stroke="#0000ff" stroke-width="4.2" />
<line x1="1600.9" y1="671" x2="1688.3" y2="655.5" stroke="#0000ff" stroke-width="4.2" />
<line x1="1723.9" y1="650.5" x2="1805.1" y2="641.6" stroke="#0000ff" stroke-width="4.2" />
<line x1="1840.9" y1="638.1" x2="1935.3" y2="629.7" stroke="#0000ff" stroke-width="4.2" />
<line x1="1970.5" y1="623.2" x2="2049.1" y2="600.9" stroke="#0000ff" stroke-width="4.2" />
<line x1="2084.2" y1="593.5" x2="2173.2" y2="581" stroke="#0000ff" stroke-width="4.2" />
<line x1="1473.9" y1="348" x2="1567.6" y2="359" stroke="#000" stroke-width="4.2" />
<line x1="1601.5" y1="362.3" x2="1690.1" y2="369" stroke="#000" stroke-width="4.2" />
<line x1="1724" y1="372.5" x2="1807.8" y2="383.1" stroke="#000" stroke-width="4.2" />
<line x1="1841.4" y1="388.6" x2="1938.1" y2="407.8" stroke="#000" stroke-width="4.2" />
<line x1="1969" y1="420.4" x2="2053.4" y2="475.4" stroke="#000" stroke-width="4.2" />
<line x1="2084.2" y1="488.2" x2="2175.6" y2="507.8" stroke="#000" stroke-width="4.2" />
<circle cx="1456.7" cy="177.8" r="12" fill="#fff" stroke="#ff0000" stroke-width="3.4"/>
<circle cx="1583.2" cy="163.3" r="12" fill="#fff" stroke="#ff0000" stroke-width="3.4"/>
<circle cx="1706" cy="146.4" r="12" fill="#fff" stroke="#ff0000" stroke-width="3.4"/>
<circle cx="1823" cy="139.4" r="12" fill="#fff" stroke="#ff0000" stroke-width="3.4"/>
<circle cx="1953.2" cy="137.1" r="12" fill="#fff" stroke="#ff0000" stroke-width="3.4"/>
<circle cx="2066.4" cy="133.1" r="12" fill="#fff" stroke="#ff0000" stroke-width="3.4"/>
<circle cx="2191" cy="125.8" r="12" fill="#fff" stroke="#ff0000" stroke-width="3.4"/>
<circle cx="1456.7" cy="694" r="12" fill="#fff" stroke="#0000ff" stroke-width="3.4"/>
<circle cx="1583.2" cy="674.1" r="12" fill="#fff" stroke="#0000ff" stroke-width="3.4"/>
<circle cx="1706" cy="652.4" r="12" fill="#fff" stroke="#0000ff" stroke-width="3.4"/>
<circle cx="1823" cy="639.7" r="12" fill="#fff" stroke="#0000ff" stroke-width="3.4"/>
<circle cx="1953.2" cy="628.1" r="12" fill="#fff" stroke="#0000ff" stroke-width="3.4"/>
<circle cx="2066.4" cy="596" r="12" fill="#fff" stroke="#0000ff" stroke-width="3.4"/>
<circle cx="2191" cy="578.5" r="12" fill="#fff" stroke="#0000ff" stroke-width="3.4"/>
<circle cx="1457" cy="346" r="12.8" fill="url(#sph)" stroke="none" stroke-width="0"/>
<circle cx="1584.5" cy="361" r="12.8" fill="url(#sph)" stroke="none" stroke-width="0"/>
<circle cx="1707.1" cy="370.3" r="12.8" fill="url(#sph)" stroke="none" stroke-width="0"/>
<circle cx="1824.7" cy="385.3" r="12.8" fill="url(#sph)" stroke="none" stroke-width="0"/>
<circle cx="1954.8" cy="411.1" r="12.8" fill="url(#sph)" stroke="none" stroke-width="0"/>
<circle cx="2067.6" cy="484.7" r="12.8" fill="url(#sph)" stroke="none" stroke-width="0"/>
<circle cx="2192.2" cy="511.3" r="12.8" fill="url(#sph)" stroke="none" stroke-width="0"/>
<line x1="1504.2" y1="139.8" x2="1425" y2="139.8" stroke="#ff0000" stroke-width="2.2" />
<polygon points="1407.4,139.8 1432.4,134.3 1432.4,145.3" fill="#ff0000"/>
<line x1="1514" y1="642" x2="1432" y2="642" stroke="#0000ff" stroke-width="2.2" />
<polygon points="1415.2,642 1440.2,636.5 1440.2,647.5" fill="#0000ff"/>
<line x1="2158.4" y1="474.5" x2="2222" y2="474.5" stroke="#000" stroke-width="2.2" />
<polygon points="2241.8,474.5 2219.8,479.5 2219.8,469.5" fill="#000"/>
<rect x="1880.6" y="167.6" width="333.4" height="104.8" fill="none" stroke="#8c8cff" stroke-width="1.8"/>
<line x1="1892.5" y1="194.5" x2="1924" y2="194.5" stroke="#ff0000" stroke-width="4.2" />
<line x1="1956" y1="194.5" x2="1990.5" y2="194.5" stroke="#ff0000" stroke-width="4.2" />
<circle cx="1940.1" cy="194.5" r="12" fill="#fff" stroke="#ff0000" stroke-width="3.4"/>
<line x1="1892.5" y1="245.9" x2="1924" y2="245.9" stroke="#0000ff" stroke-width="4.2" />
<line x1="1956" y1="245.9" x2="1990.5" y2="245.9" stroke="#0000ff" stroke-width="4.2" />
<circle cx="1940.1" cy="245.9" r="12" fill="#fff" stroke="#0000ff" stroke-width="3.4"/>
<line x1="1892.5" y1="300.7" x2="1924" y2="300.7" stroke="#000" stroke-width="4.2" />
<line x1="1956" y1="300.7" x2="1990.5" y2="300.7" stroke="#000" stroke-width="4.2" />
<circle cx="1939.6" cy="300.7" r="12.8" fill="url(#sph)" stroke="none" stroke-width="0"/>
<text x="2000" y="208.5" font-size="42.5" text-anchor="start" fill="#111" >On-current</text>
<text x="2000" y="260" font-size="42.5" text-anchor="start" fill="#111" >Off-current</text>
<text x="2000" y="314.5" font-size="42.5" text-anchor="start" fill="#111" >On/off ratio</text>
<text x="1251" y="72" font-size="93" font-weight="bold" font-family="'Liberation Serif', 'Times New Roman', serif" fill="#000">b</text>
<circle cx="989.8" cy="1747.3" r="10.9" fill="#ee4040" stroke="none" stroke-width="0"/>
<circle cx="988.9" cy="1732.1" r="10.9" fill="#ee4040" stroke="none" stroke-width="0"/>
<circle cx="987.3" cy="1717" r="10.9" fill="#ee4040" stroke="none" stroke-width="0"/>
<circle cx="989.4" cy="1701.8" r="10.9" fill="#ee4040" stroke="none" stroke-width="0"/>
<circle cx="989.6" cy="1686.6" r="10.9" fill="#ee4040" stroke="none" stroke-width="0"/>
<circle cx="984.6" cy="1671.4" r="10.9" fill="#ee4040" stroke="none" stroke-width="0"/>
<circle cx="984.1" cy="1656.2" r="10.9" fill="#ee4040" stroke="none" stroke-width="0"/>
<circle cx="991.5" cy="1641.1" r="10.9" fill="#ee4040" stroke="none" stroke-width="0"/>
<circle cx="986.3" cy="1625.9" r="10.9" fill="#ee4040" stroke="none" stroke-width="0"/>
<circle cx="986.1" cy="1610.7" r="10.9" fill="#ee4040" stroke="none" stroke-width="0"/>
<circle cx="993" cy="1595.5" r="10.9" fill="#ee4040" stroke="none" stroke-width="0"/>
<circle cx="988.2" cy="1580.3" r="10.9" fill="#ee4040" stroke="none" stroke-width="0"/>
<circle cx="991.5" cy="1565.2" r="10.9" fill="#ee4040" stroke="none" stroke-width="0"/>
<circle cx="988.3" cy="1550" r="10.9" fill="#ee4040" stroke="none" stroke-width="0"/>
<circle cx="989.8" cy="1534.8" r="10.9" fill="#ee4040" stroke="none" stroke-width="0"/>
<circle cx="985.4" cy="1519.6" r="10.9" fill="#ee4040" stroke="none" stroke-width="0"/>
<circle cx="989.7" cy="1504.4" r="10.9" fill="#ee4040" stroke="none" stroke-width="0"/>
<circle cx="991.8" cy="1489.3" r="10.9" fill="#ee4040" stroke="none" stroke-width="0"/>
<circle cx="988.7" cy="1474.1" r="10.9" fill="#ee4040" stroke="none" stroke-width="0"/>
<circle cx="990.7" cy="1458.9" r="10.9" fill="#ee4040" stroke="none" stroke-width="0"/>
<circle cx="990" cy="1443.7" r="10.9" fill="#ee4040" stroke="none" stroke-width="0"/>
<circle cx="984.6" cy="1428.5" r="10.9" fill="#ee4040" stroke="none" stroke-width="0"/>
<circle cx="990.8" cy="1413.4" r="10.9" fill="#ee4040" stroke="none" stroke-width="0"/>
<circle cx="989.3" cy="1398.2" r="10.9" fill="#ee4040" stroke="none" stroke-width="0"/>
<circle cx="986.7" cy="1383" r="10.9" fill="#ee4040" stroke="none" stroke-width="0"/>
<circle cx="984.3" cy="1367.8" r="10.9" fill="#ee4040" stroke="none" stroke-width="0"/>
<circle cx="991.8" cy="1352.6" r="10.9" fill="#ee4040" stroke="none" stroke-width="0"/>
<circle cx="988.3" cy="1337.5" r="10.9" fill="#ee4040" stroke="none" stroke-width="0"/>
<circle cx="990.5" cy="1322.3" r="10.9" fill="#ee4040" stroke="none" stroke-width="0"/>
<circle cx="991.9" cy="1307.1" r="10.9" fill="#ee4040" stroke="none" stroke-width="0"/>
<circle cx="990.4" cy="1291.9" r="10.9" fill="#ee4040" stroke="none" stroke-width="0"/>
<circle cx="992.3" cy="1276.7" r="10.9" fill="#ee4040" stroke="none" stroke-width="0"/>
<circle cx="987.6" cy="1261.6" r="10.9" fill="#ee4040" stroke="none" stroke-width="0"/>
<circle cx="991.2" cy="1246.4" r="10.9" fill="#ee4040" stroke="none" stroke-width="0"/>
<circle cx="988" cy="1231.2" r="10.9" fill="#ee4040" stroke="none" stroke-width="0"/>
<circle cx="992.4" cy="1216" r="10.9" fill="#ee4040" stroke="none" stroke-width="0"/>
<circle cx="991.9" cy="1200.8" r="10.9" fill="#ee4040" stroke="none" stroke-width="0"/>
<circle cx="984.9" cy="1185.7" r="10.9" fill="#ee4040" stroke="none" stroke-width="0"/>
<circle cx="983.5" cy="1170.5" r="10.9" fill="#ee4040" stroke="none" stroke-width="0"/>
<circle cx="254" cy="1747.3" r="11.2" fill="#00d800" stroke="none" stroke-width="0"/>
<circle cx="250" cy="1732.1" r="11.2" fill="#00d800" stroke="none" stroke-width="0"/>
<circle cx="245.6" cy="1717" r="11.2" fill="#00d800" stroke="none" stroke-width="0"/>
<circle cx="278.2" cy="1701.8" r="11.2" fill="#00d800" stroke="none" stroke-width="0"/>
<circle cx="260.1" cy="1686.6" r="11.2" fill="#00d800" stroke="none" stroke-width="0"/>
<circle cx="252.8" cy="1671.4" r="11.2" fill="#00d800" stroke="none" stroke-width="0"/>
<circle cx="267.4" cy="1656.2" r="11.2" fill="#00d800" stroke="none" stroke-width="0"/>
<circle cx="250.4" cy="1641.1" r="11.2" fill="#00d800" stroke="none" stroke-width="0"/>
<circle cx="257.7" cy="1625.9" r="11.2" fill="#00d800" stroke="none" stroke-width="0"/>
<circle cx="258.9" cy="1610.7" r="11.2" fill="#00d800" stroke="none" stroke-width="0"/>
<circle cx="262.5" cy="1595.5" r="11.2" fill="#00d800" stroke="none" stroke-width="0"/>
<circle cx="254" cy="1580.3" r="11.2" fill="#00d800" stroke="none" stroke-width="0"/>
<circle cx="250.4" cy="1565.2" r="11.2" fill="#00d800" stroke="none" stroke-width="0"/>
<circle cx="261.3" cy="1550" r="11.2" fill="#00d800" stroke="none" stroke-width="0"/>
<circle cx="273.4" cy="1534.8" r="11.2" fill="#00d800" stroke="none" stroke-width="0"/>
<circle cx="254" cy="1519.6" r="11.2" fill="#00d800" stroke="none" stroke-width="0"/>
<circle cx="256.5" cy="1504.4" r="11.2" fill="#00d800" stroke="none" stroke-width="0"/>
<circle cx="257.7" cy="1489.3" r="11.2" fill="#00d800" stroke="none" stroke-width="0"/>
<circle cx="261.3" cy="1474.1" r="11.2" fill="#00d800" stroke="none" stroke-width="0"/>
<circle cx="271.9" cy="1458.9" r="11.2" fill="#00d800" stroke="none" stroke-width="0"/>
<circle cx="281.1" cy="1443.7" r="11.2" fill="#00d800" stroke="none" stroke-width="0"/>
<circle cx="284.8" cy="1428.5" r="11.2" fill="#00d800" stroke="none" stroke-width="0"/>
<circle cx="273.8" cy="1413.4" r="11.2" fill="#00d800" stroke="none" stroke-width="0"/>
<circle cx="265.5" cy="1398.2" r="11.2" fill="#00d800" stroke="none" stroke-width="0"/>
<circle cx="287.6" cy="1383" r="11.2" fill="#00d800" stroke="none" stroke-width="0"/>
<circle cx="258.1" cy="1367.8" r="11.2" fill="#00d800" stroke="none" stroke-width="0"/>
<circle cx="261.8" cy="1352.6" r="11.2" fill="#00d800" stroke="none" stroke-width="0"/>
<circle cx="270.1" cy="1337.5" r="11.2" fill="#00d800" stroke="none" stroke-width="0"/>
<circle cx="281.1" cy="1322.3" r="11.2" fill="#00d800" stroke="none" stroke-width="0"/>
<circle cx="258.1" cy="1307.1" r="11.2" fill="#00d800" stroke="none" stroke-width="0"/>
<circle cx="260.9" cy="1291.9" r="11.2" fill="#00d800" stroke="none" stroke-width="0"/>
<circle cx="270.1" cy="1276.7" r="11.2" fill="#00d800" stroke="none" stroke-width="0"/>
<circle cx="281.1" cy="1261.6" r="11.2" fill="#00d800" stroke="none" stroke-width="0"/>
<circle cx="259.9" cy="1246.4" r="11.2" fill="#00d800" stroke="none" stroke-width="0"/>
<circle cx="255.3" cy="1231.2" r="11.2" fill="#00d800" stroke="none" stroke-width="0"/>
<circle cx="250.7" cy="1216" r="11.2" fill="#00d800" stroke="none" stroke-width="0"/>
<circle cx="284.8" cy="1200.8" r="11.2" fill="#00d800" stroke="none" stroke-width="0"/>
<circle cx="292.2" cy="1185.7" r="11.2" fill="#00d800" stroke="none" stroke-width="0"/>
<circle cx="304.2" cy="1170.5" r="11.2" fill="#00d800" stroke="none" stroke-width="0"/>
<line x1="207.6" y1="1762.5" x2="220.2" y2="1762.5" stroke="#222" stroke-width="2.6" />
<line x1="207.6" y1="1686.6" x2="220.2" y2="1686.6" stroke="#222" stroke-width="2.6" />
<line x1="207.6" y1="1610.7" x2="220.2" y2="1610.7" stroke="#222" stroke-width="2.6" />
<line x1="207.6" y1="1534.8" x2="220.2" y2="1534.8" stroke="#222" stroke-width="2.6" />
<line x1="207.6" y1="1458.9" x2="220.2" y2="1458.9" stroke="#222" stroke-width="2.6" />
<line x1="207.6" y1="1383" x2="220.2" y2="1383" stroke="#222" stroke-width="2.6" />
<line x1="207.6" y1="1307.1" x2="220.2" y2="1307.1" stroke="#222" stroke-width="2.6" />
<line x1="207.6" y1="1231.2" x2="220.2" y2="1231.2" stroke="#222" stroke-width="2.6" />
<line x1="207.6" y1="1155.3" x2="220.2" y2="1155.3" stroke="#222" stroke-width="2.6" />
<line x1="207.6" y1="1800.5" x2="214.1" y2="1800.5" stroke="#222" stroke-width="2.4" />
<line x1="207.6" y1="1724.5" x2="214.1" y2="1724.5" stroke="#222" stroke-width="2.4" />
<line x1="207.6" y1="1648.7" x2="214.1" y2="1648.7" stroke="#222" stroke-width="2.4" />
<line x1="207.6" y1="1572.8" x2="214.1" y2="1572.8" stroke="#222" stroke-width="2.4" />
<line x1="207.6" y1="1496.8" x2="214.1" y2="1496.8" stroke="#222" stroke-width="2.4" />
<line x1="207.6" y1="1421" x2="214.1" y2="1421" stroke="#222" stroke-width="2.4" />
<line x1="207.6" y1="1345" x2="214.1" y2="1345" stroke="#222" stroke-width="2.4" />
<line x1="207.6" y1="1269.2" x2="214.1" y2="1269.2" stroke="#222" stroke-width="2.4" />
<line x1="207.6" y1="1193.2" x2="214.1" y2="1193.2" stroke="#222" stroke-width="2.4" />
<line x1="245.3" y1="1801.5" x2="245.3" y2="1788.5" stroke="#222" stroke-width="2.6" />
<line x1="284.1" y1="1801.5" x2="284.1" y2="1795.5" stroke="#222" stroke-width="2.3" />
<line x1="306.8" y1="1801.5" x2="306.8" y2="1795.5" stroke="#222" stroke-width="2.3" />
<line x1="323" y1="1801.5" x2="323" y2="1795.5" stroke="#222" stroke-width="2.3" />
<line x1="335.5" y1="1801.5" x2="335.5" y2="1795.5" stroke="#222" stroke-width="2.3" />
<line x1="345.7" y1="1801.5" x2="345.7" y2="1795.5" stroke="#222" stroke-width="2.3" />
<line x1="354.3" y1="1801.5" x2="354.3" y2="1795.5" stroke="#222" stroke-width="2.3" />
<line x1="361.8" y1="1801.5" x2="361.8" y2="1795.5" stroke="#222" stroke-width="2.3" />
<line x1="368.4" y1="1801.5" x2="368.4" y2="1795.5" stroke="#222" stroke-width="2.3" />
<line x1="374.3" y1="1801.5" x2="374.3" y2="1788.5" stroke="#222" stroke-width="2.6" />
<line x1="413.1" y1="1801.5" x2="413.1" y2="1795.5" stroke="#222" stroke-width="2.3" />
<line x1="435.8" y1="1801.5" x2="435.8" y2="1795.5" stroke="#222" stroke-width="2.3" />
<line x1="452" y1="1801.5" x2="452" y2="1795.5" stroke="#222" stroke-width="2.3" />
<line x1="464.5" y1="1801.5" x2="464.5" y2="1795.5" stroke="#222" stroke-width="2.3" />
<line x1="474.7" y1="1801.5" x2="474.7" y2="1795.5" stroke="#222" stroke-width="2.3" />
<line x1="483.3" y1="1801.5" x2="483.3" y2="1795.5" stroke="#222" stroke-width="2.3" />
<line x1="490.8" y1="1801.5" x2="490.8" y2="1795.5" stroke="#222" stroke-width="2.3" />
<line x1="497.4" y1="1801.5" x2="497.4" y2="1795.5" stroke="#222" stroke-width="2.3" />
<line x1="503.3" y1="1801.5" x2="503.3" y2="1788.5" stroke="#222" stroke-width="2.6" />
<line x1="542.1" y1="1801.5" x2="542.1" y2="1795.5" stroke="#222" stroke-width="2.3" />
<line x1="564.8" y1="1801.5" x2="564.8" y2="1795.5" stroke="#222" stroke-width="2.3" />
<line x1="581" y1="1801.5" x2="581" y2="1795.5" stroke="#222" stroke-width="2.3" />
<line x1="593.5" y1="1801.5" x2="593.5" y2="1795.5" stroke="#222" stroke-width="2.3" />
<line x1="603.7" y1="1801.5" x2="603.7" y2="1795.5" stroke="#222" stroke-width="2.3" />
<line x1="612.3" y1="1801.5" x2="612.3" y2="1795.5" stroke="#222" stroke-width="2.3" />
<line x1="619.8" y1="1801.5" x2="619.8" y2="1795.5" stroke="#222" stroke-width="2.3" />
<line x1="626.4" y1="1801.5" x2="626.4" y2="1795.5" stroke="#222" stroke-width="2.3" />
<line x1="632.3" y1="1801.5" x2="632.3" y2="1788.5" stroke="#222" stroke-width="2.6" />
<line x1="671.1" y1="1801.5" x2="671.1" y2="1795.5" stroke="#222" stroke-width="2.3" />
<line x1="693.8" y1="1801.5" x2="693.8" y2="1795.5" stroke="#222" stroke-width="2.3" />
<line x1="710" y1="1801.5" x2="710" y2="1795.5" stroke="#222" stroke-width="2.3" />
<line x1="722.5" y1="1801.5" x2="722.5" y2="1795.5" stroke="#222" stroke-width="2.3" />
<line x1="732.7" y1="1801.5" x2="732.7" y2="1795.5" stroke="#222" stroke-width="2.3" />
<line x1="741.3" y1="1801.5" x2="741.3" y2="1795.5" stroke="#222" stroke-width="2.3" />
<line x1="748.8" y1="1801.5" x2="748.8" y2="1795.5" stroke="#222" stroke-width="2.3" />
<line x1="755.4" y1="1801.5" x2="755.4" y2="1795.5" stroke="#222" stroke-width="2.3" />
<line x1="761.3" y1="1801.5" x2="761.3" y2="1788.5" stroke="#222" stroke-width="2.6" />
<line x1="800.1" y1="1801.5" x2="800.1" y2="1795.5" stroke="#222" stroke-width="2.3" />
<line x1="822.8" y1="1801.5" x2="822.8" y2="1795.5" stroke="#222" stroke-width="2.3" />
<line x1="839" y1="1801.5" x2="839" y2="1795.5" stroke="#222" stroke-width="2.3" />
<line x1="851.5" y1="1801.5" x2="851.5" y2="1795.5" stroke="#222" stroke-width="2.3" />
<line x1="861.7" y1="1801.5" x2="861.7" y2="1795.5" stroke="#222" stroke-width="2.3" />
<line x1="870.3" y1="1801.5" x2="870.3" y2="1795.5" stroke="#222" stroke-width="2.3" />
<line x1="877.8" y1="1801.5" x2="877.8" y2="1795.5" stroke="#222" stroke-width="2.3" />
<line x1="884.4" y1="1801.5" x2="884.4" y2="1795.5" stroke="#222" stroke-width="2.3" />
<line x1="890.3" y1="1801.5" x2="890.3" y2="1788.5" stroke="#222" stroke-width="2.6" />
<line x1="929.1" y1="1801.5" x2="929.1" y2="1795.5" stroke="#222" stroke-width="2.3" />
<line x1="951.8" y1="1801.5" x2="951.8" y2="1795.5" stroke="#222" stroke-width="2.3" />
<line x1="968" y1="1801.5" x2="968" y2="1795.5" stroke="#222" stroke-width="2.3" />
<line x1="980.5" y1="1801.5" x2="980.5" y2="1795.5" stroke="#222" stroke-width="2.3" />
<line x1="990.7" y1="1801.5" x2="990.7" y2="1795.5" stroke="#222" stroke-width="2.3" />
<line x1="999.3" y1="1801.5" x2="999.3" y2="1795.5" stroke="#222" stroke-width="2.3" />
<line x1="1006.8" y1="1801.5" x2="1006.8" y2="1795.5" stroke="#222" stroke-width="2.3" />
<line x1="1013.4" y1="1801.5" x2="1013.4" y2="1795.5" stroke="#222" stroke-width="2.3" />
<line x1="1019.3" y1="1801.5" x2="1019.3" y2="1788.5" stroke="#222" stroke-width="2.6" />
<line x1="216.7" y1="1801.5" x2="216.7" y2="1795.5" stroke="#222" stroke-width="2.3" />
<line x1="225.3" y1="1801.5" x2="225.3" y2="1795.5" stroke="#222" stroke-width="2.3" />
<line x1="232.8" y1="1801.5" x2="232.8" y2="1795.5" stroke="#222" stroke-width="2.3" />
<line x1="239.4" y1="1801.5" x2="239.4" y2="1795.5" stroke="#222" stroke-width="2.3" />
<line x1="207.6" y1="1116.3" x2="1057" y2="1116.3" stroke="#333" stroke-width="3.2" stroke-linecap="square"/>
<line x1="1057" y1="1116.3" x2="1057" y2="1801.5" stroke="#333" stroke-width="3.2" stroke-linecap="square"/>
<line x1="207.6" y1="1116.3" x2="207.6" y2="1801.5" stroke="#000" stroke-width="3.4" stroke-linecap="square"/>
<line x1="207.6" y1="1801.5" x2="1057" y2="1801.5" stroke="#000" stroke-width="3.4" stroke-linecap="square"/>
<text x="189.5" y="1773.5" font-size="42" text-anchor="end" fill="#111" >0</text>
<text x="189.5" y="1697.6" font-size="42" text-anchor="end" fill="#111" >5</text>
<text x="189.5" y="1621.7" font-size="42" text-anchor="end" fill="#111" >10</text>
<text x="189.5" y="1545.8" font-size="42" text-anchor="end" fill="#111" >15</text>
<text x="189.5" y="1469.9" font-size="42" text-anchor="end" fill="#111" >20</text>
<text x="189.5" y="1394" font-size="42" text-anchor="end" fill="#111" >25</text>
<text x="189.5" y="1318.1" font-size="42" text-anchor="end" fill="#111" >30</text>
<text x="189.5" y="1242.2" font-size="42" text-anchor="end" fill="#111" >35</text>
<text x="189.5" y="1166.3" font-size="42" text-anchor="end" fill="#111" >40</text>
<text x="246.8" y="1853.5" font-size="41" text-anchor="middle" fill="#111">10<tspan font-size="29" dy="-16.5">-10</tspan></text>
<text x="375.8" y="1853.5" font-size="41" text-anchor="middle" fill="#111">10<tspan font-size="29" dy="-16.5">-9</tspan></text>
<text x="504.8" y="1853.5" font-size="41" text-anchor="middle" fill="#111">10<tspan font-size="29" dy="-16.5">-8</tspan></text>
<text x="633.8" y="1853.5" font-size="41" text-anchor="middle" fill="#111">10<tspan font-size="29" dy="-16.5">-7</tspan></text>
<text x="762.8" y="1853.5" font-size="41" text-anchor="middle" fill="#111">10<tspan font-size="29" dy="-16.5">-6</tspan></text>
<text x="891.8" y="1853.5" font-size="41" text-anchor="middle" fill="#111">10<tspan font-size="29" dy="-16.5">-5</tspan></text>
<text x="1020.8" y="1853.5" font-size="41" text-anchor="middle" fill="#111">10<tspan font-size="29" dy="-16.5">-4</tspan></text>
<text x="632.5" y="1934" font-size="58.7" text-anchor="middle" fill="#111" >Readout current (A)</text>
<text transform="translate(125.8,1455.2) rotate(-90)" font-size="59.4" text-anchor="middle" fill="#111">Device number</text>
<circle cx="689.4" cy="1328.9" r="10.6" fill="#00d800" stroke="none" stroke-width="0"/>
<circle cx="689.4" cy="1380.9" r="10.3" fill="#ee4040" stroke="none" stroke-width="0"/>
<text x="747" y="1343.6" font-size="42.5" text-anchor="start" fill="#111" >read @1V</text>
<text x="747" y="1395.1" font-size="42.5" text-anchor="start" fill="#111" >read @5V</text>
<line x1="300" y1="1619.8" x2="958" y2="1619.8" stroke="#000" stroke-width="2.2" />
<polygon points="285.5,1619.8 309.5,1614.3 309.5,1625.3" fill="#000"/>
<polygon points="973.3,1619.8 949.3,1625.3 949.3,1614.3" fill="#000"/>
<text x="537" y="1591.5" font-size="40.5" fill="#111" textLength="261" lengthAdjust="spacing">Selectivity~10</text>
<text x="799" y="1574.5" font-size="30" fill="#111">6</text>
<text x="48" y="1138" font-size="93" font-weight="bold" font-family="'Liberation Serif', 'Times New Roman', serif" fill="#000">c</text>
<circle cx="1447.8" cy="1168.1" r="11.3" fill="#000" stroke="none" stroke-width="0"/>
<circle cx="1486.4" cy="1167.7" r="11.3" fill="#000" stroke="none" stroke-width="0"/>
<circle cx="1538.5" cy="1170.6" r="11.3" fill="#000" stroke="none" stroke-width="0"/>
<circle cx="1558.5" cy="1166.1" r="11.3" fill="#000" stroke="none" stroke-width="0"/>
<circle cx="1578.7" cy="1169.2" r="11.3" fill="#000" stroke="none" stroke-width="0"/>
<circle cx="1597.7" cy="1168.1" r="11.3" fill="#000" stroke="none" stroke-width="0"/>
<circle cx="1614.8" cy="1167.7" r="11.3" fill="#000" stroke="none" stroke-width="0"/>
<circle cx="1635.4" cy="1167.5" r="11.3" fill="#000" stroke="none" stroke-width="0"/>
<circle cx="1659.1" cy="1169.2" r="11.3" fill="#000" stroke="none" stroke-width="0"/>
<circle cx="1673.5" cy="1167.1" r="11.3" fill="#000" stroke="none" stroke-width="0"/>
<circle cx="1690" cy="1169.2" r="11.3" fill="#000" stroke="none" stroke-width="0"/>
<circle cx="1709.6" cy="1168.1" r="11.3" fill="#000" stroke="none" stroke-width="0"/>
<circle cx="1728.5" cy="1170.6" r="11.3" fill="#000" stroke="none" stroke-width="0"/>
<circle cx="1746.7" cy="1167.1" r="11.3" fill="#000" stroke="none" stroke-width="0"/>
<circle cx="1766.3" cy="1166.5" r="11.3" fill="#000" stroke="none" stroke-width="0"/>
<circle cx="1790" cy="1164.6" r="11.3" fill="#000" stroke="none" stroke-width="0"/>
<circle cx="1804.4" cy="1169.2" r="11.3" fill="#000" stroke="none" stroke-width="0"/>
<circle cx="1820.9" cy="1167.1" r="11.3" fill="#000" stroke="none" stroke-width="0"/>
<circle cx="1840.4" cy="1167.5" r="11.3" fill="#000" stroke="none" stroke-width="0"/>
<circle cx="1859.3" cy="1167" r="11.3" fill="#000" stroke="none" stroke-width="0"/>
<circle cx="1877.1" cy="1169.2" r="11.3" fill="#000" stroke="none" stroke-width="0"/>
<circle cx="1896.7" cy="1167.1" r="11.3" fill="#000" stroke="none" stroke-width="0"/>
<circle cx="1920.4" cy="1170.2" r="11.3" fill="#000" stroke="none" stroke-width="0"/>
<circle cx="1934.8" cy="1165.4" r="11.3" fill="#000" stroke="none" stroke-width="0"/>
<circle cx="1952.3" cy="1169.6" r="11.3" fill="#000" stroke="none" stroke-width="0"/>
<circle cx="1971.9" cy="1167.1" r="11.3" fill="#000" stroke="none" stroke-width="0"/>
<circle cx="1990.5" cy="1167.1" r="11.3" fill="#000" stroke="none" stroke-width="0"/>
<circle cx="2008" cy="1166.5" r="11.3" fill="#000" stroke="none" stroke-width="0"/>
<circle cx="2028.6" cy="1169.6" r="11.3" fill="#000" stroke="none" stroke-width="0"/>
<circle cx="2051.3" cy="1167.1" r="11.3" fill="#000" stroke="none" stroke-width="0"/>
<circle cx="2066.7" cy="1167.1" r="11.3" fill="#000" stroke="none" stroke-width="0"/>
<circle cx="2083.2" cy="1166.5" r="11.3" fill="#000" stroke="none" stroke-width="0"/>
<circle cx="2102.8" cy="1169.2" r="11.3" fill="#000" stroke="none" stroke-width="0"/>
<circle cx="2122.4" cy="1168.7" r="11.3" fill="#000" stroke="none" stroke-width="0"/>
<circle cx="2139.9" cy="1167.1" r="11.3" fill="#000" stroke="none" stroke-width="0"/>
<circle cx="2159.5" cy="1171.2" r="11.3" fill="#000" stroke="none" stroke-width="0"/>
<circle cx="2182.1" cy="1169.2" r="11.3" fill="#000" stroke="none" stroke-width="0"/>
<circle cx="2197.6" cy="1170.2" r="11.3" fill="#000" stroke="none" stroke-width="0"/>
<circle cx="2214.1" cy="1172.3" r="11.3" fill="#000" stroke="none" stroke-width="0"/>
<circle cx="1447.8" cy="1714.3" r="9.3" fill="none" stroke="#ff0000" stroke-width="3.3"/>
<circle cx="1486.4" cy="1717" r="9.3" fill="none" stroke="#ff0000" stroke-width="3.3"/>
<circle cx="1538.5" cy="1720.5" r="9.3" fill="none" stroke="#ff0000" stroke-width="3.3"/>
<circle cx="1558.5" cy="1698.4" r="9.3" fill="none" stroke="#ff0000" stroke-width="3.3"/>
<circle cx="1578.7" cy="1710.2" r="9.3" fill="none" stroke="#ff0000" stroke-width="3.3"/>
<circle cx="1597.7" cy="1714.3" r="9.3" fill="none" stroke="#ff0000" stroke-width="3.3"/>
<circle cx="1614.8" cy="1706.1" r="9.3" fill="none" stroke="#ff0000" stroke-width="3.3"/>
<circle cx="1635.4" cy="1717" r="9.3" fill="none" stroke="#ff0000" stroke-width="3.3"/>
<circle cx="1659.1" cy="1713.3" r="9.3" fill="none" stroke="#ff0000" stroke-width="3.3"/>
<circle cx="1673.5" cy="1712.3" r="9.3" fill="none" stroke="#ff0000" stroke-width="3.3"/>
<circle cx="1690" cy="1710.2" r="9.3" fill="none" stroke="#ff0000" stroke-width="3.3"/>
<circle cx="1709.6" cy="1714.3" r="9.3" fill="none" stroke="#ff0000" stroke-width="3.3"/>
<circle cx="1728.5" cy="1717.4" r="9.3" fill="none" stroke="#ff0000" stroke-width="3.3"/>
<circle cx="1746.7" cy="1709.2" r="9.3" fill="none" stroke="#ff0000" stroke-width="3.3"/>
<circle cx="1766.3" cy="1703" r="9.3" fill="none" stroke="#ff0000" stroke-width="3.3"/>
<circle cx="1790" cy="1714.3" r="9.3" fill="none" stroke="#ff0000" stroke-width="3.3"/>
<circle cx="1804.4" cy="1713.3" r="9.3" fill="none" stroke="#ff0000" stroke-width="3.3"/>
<circle cx="1820.9" cy="1712.3" r="9.3" fill="none" stroke="#ff0000" stroke-width="3.3"/>
<circle cx="1840.4" cy="1709.7" r="9.3" fill="none" stroke="#ff0000" stroke-width="3.3"/>
<circle cx="1859.3" cy="1703.8" r="9.3" fill="none" stroke="#ff0000" stroke-width="3.3"/>
<circle cx="1877.1" cy="1696.4" r="9.3" fill="none" stroke="#ff0000" stroke-width="3.3"/>
<circle cx="1896.7" cy="1694.3" r="9.3" fill="none" stroke="#ff0000" stroke-width="3.3"/>
<circle cx="1920.4" cy="1701.5" r="9.3" fill="none" stroke="#ff0000" stroke-width="3.3"/>
<circle cx="1934.8" cy="1707.7" r="9.3" fill="none" stroke="#ff0000" stroke-width="3.3"/>
<circle cx="1952.3" cy="1691.8" r="9.3" fill="none" stroke="#ff0000" stroke-width="3.3"/>
<circle cx="1971.9" cy="1711.8" r="9.3" fill="none" stroke="#ff0000" stroke-width="3.3"/>
<circle cx="1990.5" cy="1709.8" r="9.3" fill="none" stroke="#ff0000" stroke-width="3.3"/>
<circle cx="2008" cy="1703.2" r="9.3" fill="none" stroke="#ff0000" stroke-width="3.3"/>
<circle cx="2028.6" cy="1695.8" r="9.3" fill="none" stroke="#ff0000" stroke-width="3.3"/>
<circle cx="2051.3" cy="1711.8" r="9.3" fill="none" stroke="#ff0000" stroke-width="3.3"/>
<circle cx="2066.7" cy="1709.8" r="9.3" fill="none" stroke="#ff0000" stroke-width="3.3"/>
<circle cx="2083.2" cy="1703.2" r="9.3" fill="none" stroke="#ff0000" stroke-width="3.3"/>
<circle cx="2102.8" cy="1695.8" r="9.3" fill="none" stroke="#ff0000" stroke-width="3.3"/>
<circle cx="2122.4" cy="1710.8" r="9.3" fill="none" stroke="#ff0000" stroke-width="3.3"/>
<circle cx="2139.9" cy="1714.9" r="9.3" fill="none" stroke="#ff0000" stroke-width="3.3"/>
<circle cx="2159.5" cy="1717" r="9.3" fill="none" stroke="#ff0000" stroke-width="3.3"/>
<circle cx="2182.1" cy="1693.7" r="9.3" fill="none" stroke="#ff0000" stroke-width="3.3"/>
<circle cx="2197.6" cy="1688.1" r="9.3" fill="none" stroke="#ff0000" stroke-width="3.3"/>
<circle cx="2214.1" cy="1680.5" r="9.3" fill="none" stroke="#ff0000" stroke-width="3.3"/>
<line x1="1408.6" y1="1810.6" x2="1421.3" y2="1810.6" stroke="#222" stroke-width="2.6" />
<line x1="1408.6" y1="1783.5" x2="1414.8" y2="1783.5" stroke="#222" stroke-width="2.3" />
<line x1="1408.6" y1="1767.7" x2="1414.8" y2="1767.7" stroke="#222" stroke-width="2.3" />
<line x1="1408.6" y1="1756.4" x2="1414.8" y2="1756.4" stroke="#222" stroke-width="2.3" />
<line x1="1408.6" y1="1747.7" x2="1414.8" y2="1747.7" stroke="#222" stroke-width="2.3" />
<line x1="1408.6" y1="1740.6" x2="1414.8" y2="1740.6" stroke="#222" stroke-width="2.3" />
<line x1="1408.6" y1="1734.5" x2="1414.8" y2="1734.5" stroke="#222" stroke-width="2.3" />
<line x1="1408.6" y1="1729.3" x2="1414.8" y2="1729.3" stroke="#222" stroke-width="2.3" />
<line x1="1408.6" y1="1724.7" x2="1414.8" y2="1724.7" stroke="#222" stroke-width="2.3" />
<line x1="1408.6" y1="1720.6" x2="1421.3" y2="1720.6" stroke="#222" stroke-width="2.6" />
<line x1="1408.6" y1="1693.5" x2="1414.8" y2="1693.5" stroke="#222" stroke-width="2.3" />
<line x1="1408.6" y1="1677.7" x2="1414.8" y2="1677.7" stroke="#222" stroke-width="2.3" />
<line x1="1408.6" y1="1666.4" x2="1414.8" y2="1666.4" stroke="#222" stroke-width="2.3" />
<line x1="1408.6" y1="1657.7" x2="1414.8" y2="1657.7" stroke="#222" stroke-width="2.3" />
<line x1="1408.6" y1="1650.6" x2="1414.8" y2="1650.6" stroke="#222" stroke-width="2.3" />
<line x1="1408.6" y1="1644.5" x2="1414.8" y2="1644.5" stroke="#222" stroke-width="2.3" />
<line x1="1408.6" y1="1639.3" x2="1414.8" y2="1639.3" stroke="#222" stroke-width="2.3" />
<line x1="1408.6" y1="1634.7" x2="1414.8" y2="1634.7" stroke="#222" stroke-width="2.3" />
<line x1="1408.6" y1="1630.6" x2="1421.3" y2="1630.6" stroke="#222" stroke-width="2.6" />
<line x1="1408.6" y1="1603.5" x2="1414.8" y2="1603.5" stroke="#222" stroke-width="2.3" />
<line x1="1408.6" y1="1587.7" x2="1414.8" y2="1587.7" stroke="#222" stroke-width="2.3" />
<line x1="1408.6" y1="1576.4" x2="1414.8" y2="1576.4" stroke="#222" stroke-width="2.3" />
<line x1="1408.6" y1="1567.7" x2="1414.8" y2="1567.7" stroke="#222" stroke-width="2.3" />
<line x1="1408.6" y1="1560.6" x2="1414.8" y2="1560.6" stroke="#222" stroke-width="2.3" />
<line x1="1408.6" y1="1554.5" x2="1414.8" y2="1554.5" stroke="#222" stroke-width="2.3" />
<line x1="1408.6" y1="1549.3" x2="1414.8" y2="1549.3" stroke="#222" stroke-width="2.3" />
<line x1="1408.6" y1="1544.7" x2="1414.8" y2="1544.7" stroke="#222" stroke-width="2.3" />
<line x1="1408.6" y1="1540.6" x2="1421.3" y2="1540.6" stroke="#222" stroke-width="2.6" />
<line x1="1408.6" y1="1513.5" x2="1414.8" y2="1513.5" stroke="#222" stroke-width="2.3" />
<line x1="1408.6" y1="1497.7" x2="1414.8" y2="1497.7" stroke="#222" stroke-width="2.3" />
<line x1="1408.6" y1="1486.4" x2="1414.8" y2="1486.4" stroke="#222" stroke-width="2.3" />
<line x1="1408.6" y1="1477.7" x2="1414.8" y2="1477.7" stroke="#222" stroke-width="2.3" />
<line x1="1408.6" y1="1470.6" x2="1414.8" y2="1470.6" stroke="#222" stroke-width="2.3" />
<line x1="1408.6" y1="1464.5" x2="1414.8" y2="1464.5" stroke="#222" stroke-width="2.3" />
<line x1="1408.6" y1="1459.3" x2="1414.8" y2="1459.3" stroke="#222" stroke-width="2.3" />
<line x1="1408.6" y1="1454.7" x2="1414.8" y2="1454.7" stroke="#222" stroke-width="2.3" />
<line x1="1408.6" y1="1450.6" x2="1421.3" y2="1450.6" stroke="#222" stroke-width="2.6" />
<line x1="1408.6" y1="1423.5" x2="1414.8" y2="1423.5" stroke="#222" stroke-width="2.3" />
<line x1="1408.6" y1="1407.7" x2="1414.8" y2="1407.7" stroke="#222" stroke-width="2.3" />
<line x1="1408.6" y1="1396.4" x2="1414.8" y2="1396.4" stroke="#222" stroke-width="2.3" />
<line x1="1408.6" y1="1387.7" x2="1414.8" y2="1387.7" stroke="#222" stroke-width="2.3" />
<line x1="1408.6" y1="1380.6" x2="1414.8" y2="1380.6" stroke="#222" stroke-width="2.3" />
<line x1="1408.6" y1="1374.5" x2="1414.8" y2="1374.5" stroke="#222" stroke-width="2.3" />
<line x1="1408.6" y1="1369.3" x2="1414.8" y2="1369.3" stroke="#222" stroke-width="2.3" />
<line x1="1408.6" y1="1364.7" x2="1414.8" y2="1364.7" stroke="#222" stroke-width="2.3" />
<line x1="1408.6" y1="1360.6" x2="1421.3" y2="1360.6" stroke="#222" stroke-width="2.6" />
<line x1="1408.6" y1="1333.5" x2="1414.8" y2="1333.5" stroke="#222" stroke-width="2.3" />
<line x1="1408.6" y1="1317.7" x2="1414.8" y2="1317.7" stroke="#222" stroke-width="2.3" />
<line x1="1408.6" y1="1306.4" x2="1414.8" y2="1306.4" stroke="#222" stroke-width="2.3" />
<line x1="1408.6" y1="1297.7" x2="1414.8" y2="1297.7" stroke="#222" stroke-width="2.3" />
<line x1="1408.6" y1="1290.6" x2="1414.8" y2="1290.6" stroke="#222" stroke-width="2.3" />
<line x1="1408.6" y1="1284.5" x2="1414.8" y2="1284.5" stroke="#222" stroke-width="2.3" />
<line x1="1408.6" y1="1279.3" x2="1414.8" y2="1279.3" stroke="#222" stroke-width="2.3" />
<line x1="1408.6" y1="1274.7" x2="1414.8" y2="1274.7" stroke="#222" stroke-width="2.3" />
<line x1="1408.6" y1="1270.6" x2="1421.3" y2="1270.6" stroke="#222" stroke-width="2.6" />
<line x1="1408.6" y1="1243.5" x2="1414.8" y2="1243.5" stroke="#222" stroke-width="2.3" />
<line x1="1408.6" y1="1227.7" x2="1414.8" y2="1227.7" stroke="#222" stroke-width="2.3" />
<line x1="1408.6" y1="1216.4" x2="1414.8" y2="1216.4" stroke="#222" stroke-width="2.3" />
<line x1="1408.6" y1="1207.7" x2="1414.8" y2="1207.7" stroke="#222" stroke-width="2.3" />
<line x1="1408.6" y1="1200.6" x2="1414.8" y2="1200.6" stroke="#222" stroke-width="2.3" />
<line x1="1408.6" y1="1194.5" x2="1414.8" y2="1194.5" stroke="#222" stroke-width="2.3" />
<line x1="1408.6" y1="1189.3" x2="1414.8" y2="1189.3" stroke="#222" stroke-width="2.3" />
<line x1="1408.6" y1="1184.7" x2="1414.8" y2="1184.7" stroke="#222" stroke-width="2.3" />
<line x1="1408.6" y1="1180.6" x2="1421.3" y2="1180.6" stroke="#222" stroke-width="2.6" />
<line x1="1408.6" y1="1153.5" x2="1414.8" y2="1153.5" stroke="#222" stroke-width="2.3" />
<line x1="1408.6" y1="1137.7" x2="1414.8" y2="1137.7" stroke="#222" stroke-width="2.3" />
<line x1="1408.6" y1="1126.4" x2="1414.8" y2="1126.4" stroke="#222" stroke-width="2.3" />
<line x1="1447.9" y1="1811" x2="1447.9" y2="1798" stroke="#222" stroke-width="2.6" />
<line x1="1487.4" y1="1811" x2="1487.4" y2="1805" stroke="#222" stroke-width="2.3" />
<line x1="1510.5" y1="1811" x2="1510.5" y2="1805" stroke="#222" stroke-width="2.3" />
<line x1="1526.8" y1="1811" x2="1526.8" y2="1805" stroke="#222" stroke-width="2.3" />
<line x1="1539.5" y1="1811" x2="1539.5" y2="1805" stroke="#222" stroke-width="2.3" />
<line x1="1549.9" y1="1811" x2="1549.9" y2="1805" stroke="#222" stroke-width="2.3" />
<line x1="1558.7" y1="1811" x2="1558.7" y2="1805" stroke="#222" stroke-width="2.3" />
<line x1="1566.3" y1="1811" x2="1566.3" y2="1805" stroke="#222" stroke-width="2.3" />
<line x1="1573" y1="1811" x2="1573" y2="1805" stroke="#222" stroke-width="2.3" />
<line x1="1579" y1="1811" x2="1579" y2="1798" stroke="#222" stroke-width="2.6" />
<line x1="1618.5" y1="1811" x2="1618.5" y2="1805" stroke="#222" stroke-width="2.3" />
<line x1="1641.6" y1="1811" x2="1641.6" y2="1805" stroke="#222" stroke-width="2.3" />
<line x1="1657.9" y1="1811" x2="1657.9" y2="1805" stroke="#222" stroke-width="2.3" />
<line x1="1670.6" y1="1811" x2="1670.6" y2="1805" stroke="#222" stroke-width="2.3" />
<line x1="1681" y1="1811" x2="1681" y2="1805" stroke="#222" stroke-width="2.3" />
<line x1="1689.8" y1="1811" x2="1689.8" y2="1805" stroke="#222" stroke-width="2.3" />
<line x1="1697.4" y1="1811" x2="1697.4" y2="1805" stroke="#222" stroke-width="2.3" />
<line x1="1704.1" y1="1811" x2="1704.1" y2="1805" stroke="#222" stroke-width="2.3" />
<line x1="1710.1" y1="1811" x2="1710.1" y2="1798" stroke="#222" stroke-width="2.6" />
<line x1="1749.6" y1="1811" x2="1749.6" y2="1805" stroke="#222" stroke-width="2.3" />
<line x1="1772.7" y1="1811" x2="1772.7" y2="1805" stroke="#222" stroke-width="2.3" />
<line x1="1789" y1="1811" x2="1789" y2="1805" stroke="#222" stroke-width="2.3" />
<line x1="1801.7" y1="1811" x2="1801.7" y2="1805" stroke="#222" stroke-width="2.3" />
<line x1="1812.1" y1="1811" x2="1812.1" y2="1805" stroke="#222" stroke-width="2.3" />
<line x1="1820.9" y1="1811" x2="1820.9" y2="1805" stroke="#222" stroke-width="2.3" />
<line x1="1828.5" y1="1811" x2="1828.5" y2="1805" stroke="#222" stroke-width="2.3" />
<line x1="1835.2" y1="1811" x2="1835.2" y2="1805" stroke="#222" stroke-width="2.3" />
<line x1="1841.2" y1="1811" x2="1841.2" y2="1798" stroke="#222" stroke-width="2.6" />
<line x1="1880.7" y1="1811" x2="1880.7" y2="1805" stroke="#222" stroke-width="2.3" />
<line x1="1903.8" y1="1811" x2="1903.8" y2="1805" stroke="#222" stroke-width="2.3" />
<line x1="1920.1" y1="1811" x2="1920.1" y2="1805" stroke="#222" stroke-width="2.3" />
<line x1="1932.8" y1="1811" x2="1932.8" y2="1805" stroke="#222" stroke-width="2.3" />
<line x1="1943.2" y1="1811" x2="1943.2" y2="1805" stroke="#222" stroke-width="2.3" />
<line x1="1952" y1="1811" x2="1952" y2="1805" stroke="#222" stroke-width="2.3" />
<line x1="1959.6" y1="1811" x2="1959.6" y2="1805" stroke="#222" stroke-width="2.3" />
<line x1="1966.3" y1="1811" x2="1966.3" y2="1805" stroke="#222" stroke-width="2.3" />
<line x1="1972.3" y1="1811" x2="1972.3" y2="1798" stroke="#222" stroke-width="2.6" />
<line x1="2011.8" y1="1811" x2="2011.8" y2="1805" stroke="#222" stroke-width="2.3" />
<line x1="2034.9" y1="1811" x2="2034.9" y2="1805" stroke="#222" stroke-width="2.3" />
<line x1="2051.2" y1="1811" x2="2051.2" y2="1805" stroke="#222" stroke-width="2.3" />
<line x1="2063.9" y1="1811" x2="2063.9" y2="1805" stroke="#222" stroke-width="2.3" />
<line x1="2074.3" y1="1811" x2="2074.3" y2="1805" stroke="#222" stroke-width="2.3" />
<line x1="2083.1" y1="1811" x2="2083.1" y2="1805" stroke="#222" stroke-width="2.3" />
<line x1="2090.7" y1="1811" x2="2090.7" y2="1805" stroke="#222" stroke-width="2.3" />
<line x1="2097.4" y1="1811" x2="2097.4" y2="1805" stroke="#222" stroke-width="2.3" />
<line x1="2103.4" y1="1811" x2="2103.4" y2="1798" stroke="#222" stroke-width="2.6" />
<line x1="2142.9" y1="1811" x2="2142.9" y2="1805" stroke="#222" stroke-width="2.3" />
<line x1="2166" y1="1811" x2="2166" y2="1805" stroke="#222" stroke-width="2.3" />
<line x1="2182.3" y1="1811" x2="2182.3" y2="1805" stroke="#222" stroke-width="2.3" />
<line x1="2195" y1="1811" x2="2195" y2="1805" stroke="#222" stroke-width="2.3" />
<line x1="2205.4" y1="1811" x2="2205.4" y2="1805" stroke="#222" stroke-width="2.3" />
<line x1="2214.2" y1="1811" x2="2214.2" y2="1805" stroke="#222" stroke-width="2.3" />
<line x1="2221.8" y1="1811" x2="2221.8" y2="1805" stroke="#222" stroke-width="2.3" />
<line x1="2228.5" y1="1811" x2="2228.5" y2="1805" stroke="#222" stroke-width="2.3" />
<line x1="2234.5" y1="1811" x2="2234.5" y2="1798" stroke="#222" stroke-width="2.6" />
<line x1="1418.8" y1="1811" x2="1418.8" y2="1805" stroke="#222" stroke-width="2.3" />
<line x1="1427.6" y1="1811" x2="1427.6" y2="1805" stroke="#222" stroke-width="2.3" />
<line x1="1435.2" y1="1811" x2="1435.2" y2="1805" stroke="#222" stroke-width="2.3" />
<line x1="1441.9" y1="1811" x2="1441.9" y2="1805" stroke="#222" stroke-width="2.3" />
<rect x="1408.6" y="1116.7" width="864.2" height="694.3" fill="none" stroke="#111" stroke-width="3.3"/>
<text x="1392.5" y="1195.4" font-size="41" text-anchor="end" fill="#111">10<tspan font-size="29" dy="-17.5">-4</tspan></text>
<text x="1392.5" y="1285.4" font-size="41" text-anchor="end" fill="#111">10<tspan font-size="29" dy="-17.5">-5</tspan></text>
<text x="1392.5" y="1375.4" font-size="41" text-anchor="end" fill="#111">10<tspan font-size="29" dy="-17.5">-6</tspan></text>
<text x="1392.5" y="1465.4" font-size="41" text-anchor="end" fill="#111">10<tspan font-size="29" dy="-17.5">-7</tspan></text>
<text x="1392.5" y="1555.4" font-size="41" text-anchor="end" fill="#111">10<tspan font-size="29" dy="-17.5">-8</tspan></text>
<text x="1392.5" y="1645.4" font-size="41" text-anchor="end" fill="#111">10<tspan font-size="29" dy="-17.5">-9</tspan></text>
<text x="1392.5" y="1735.4" font-size="41" text-anchor="end" fill="#111">10<tspan font-size="29" dy="-17.5">-10</tspan></text>
<text x="1392.5" y="1825.4" font-size="41" text-anchor="end" fill="#111">10<tspan font-size="29" dy="-17.5">-11</tspan></text>
<text x="1448.4" y="1865" font-size="41" text-anchor="middle" fill="#111">10<tspan font-size="29" dy="-17">0</tspan></text>
<text x="1579.5" y="1865" font-size="41" text-anchor="middle" fill="#111">10<tspan font-size="29" dy="-17">1</tspan></text>
<text x="1710.6" y="1865" font-size="41" text-anchor="middle" fill="#111">10<tspan font-size="29" dy="-17">2</tspan></text>
<text x="1841.7" y="1865" font-size="41" text-anchor="middle" fill="#111">10<tspan font-size="29" dy="-17">3</tspan></text>
<text x="1972.8" y="1865" font-size="41" text-anchor="middle" fill="#111">10<tspan font-size="29" dy="-17">4</tspan></text>
<text x="2103.9" y="1865" font-size="41" text-anchor="middle" fill="#111">10<tspan font-size="29" dy="-17">5</tspan></text>
<text x="2235" y="1865" font-size="41" text-anchor="middle" fill="#111">10<tspan font-size="29" dy="-17">6</tspan></text>
<text x="1840.5" y="1945" font-size="59" text-anchor="middle" fill="#111" >Retention time (s)</text>
<text transform="translate(1283.8,1464) rotate(-90)" font-size="59.3" text-anchor="middle" fill="#111">Readout current (A)</text>
<text x="1580" y="1377" font-size="43" text-anchor="start" fill="#111" >Write:</text>
<circle cx="1745.5" cy="1341.4" r="11.3" fill="#000" stroke="none" stroke-width="0"/>
<circle cx="1746" cy="1393.6" r="9.8" fill="none" stroke="#ff0000" stroke-width="3.3"/>
<text x="1805" y="1355.4" font-size="42.5" text-anchor="start" fill="#111" >+8V</text>
<text x="1804.5" y="1408" font-size="42.5" text-anchor="start" fill="#111" >-8V</text>
<text x="1582" y="1524" font-size="43" text-anchor="start" fill="#111" >Read:</text>
<text x="1790" y="1523.5" font-size="42.5" text-anchor="start" fill="#111" >+4V</text>
<text x="1246" y="1138" font-size="93" font-weight="bold" font-family="'Liberation Serif', 'Times New Roman', serif" fill="#000">d</text>
</svg>
</body></html>
